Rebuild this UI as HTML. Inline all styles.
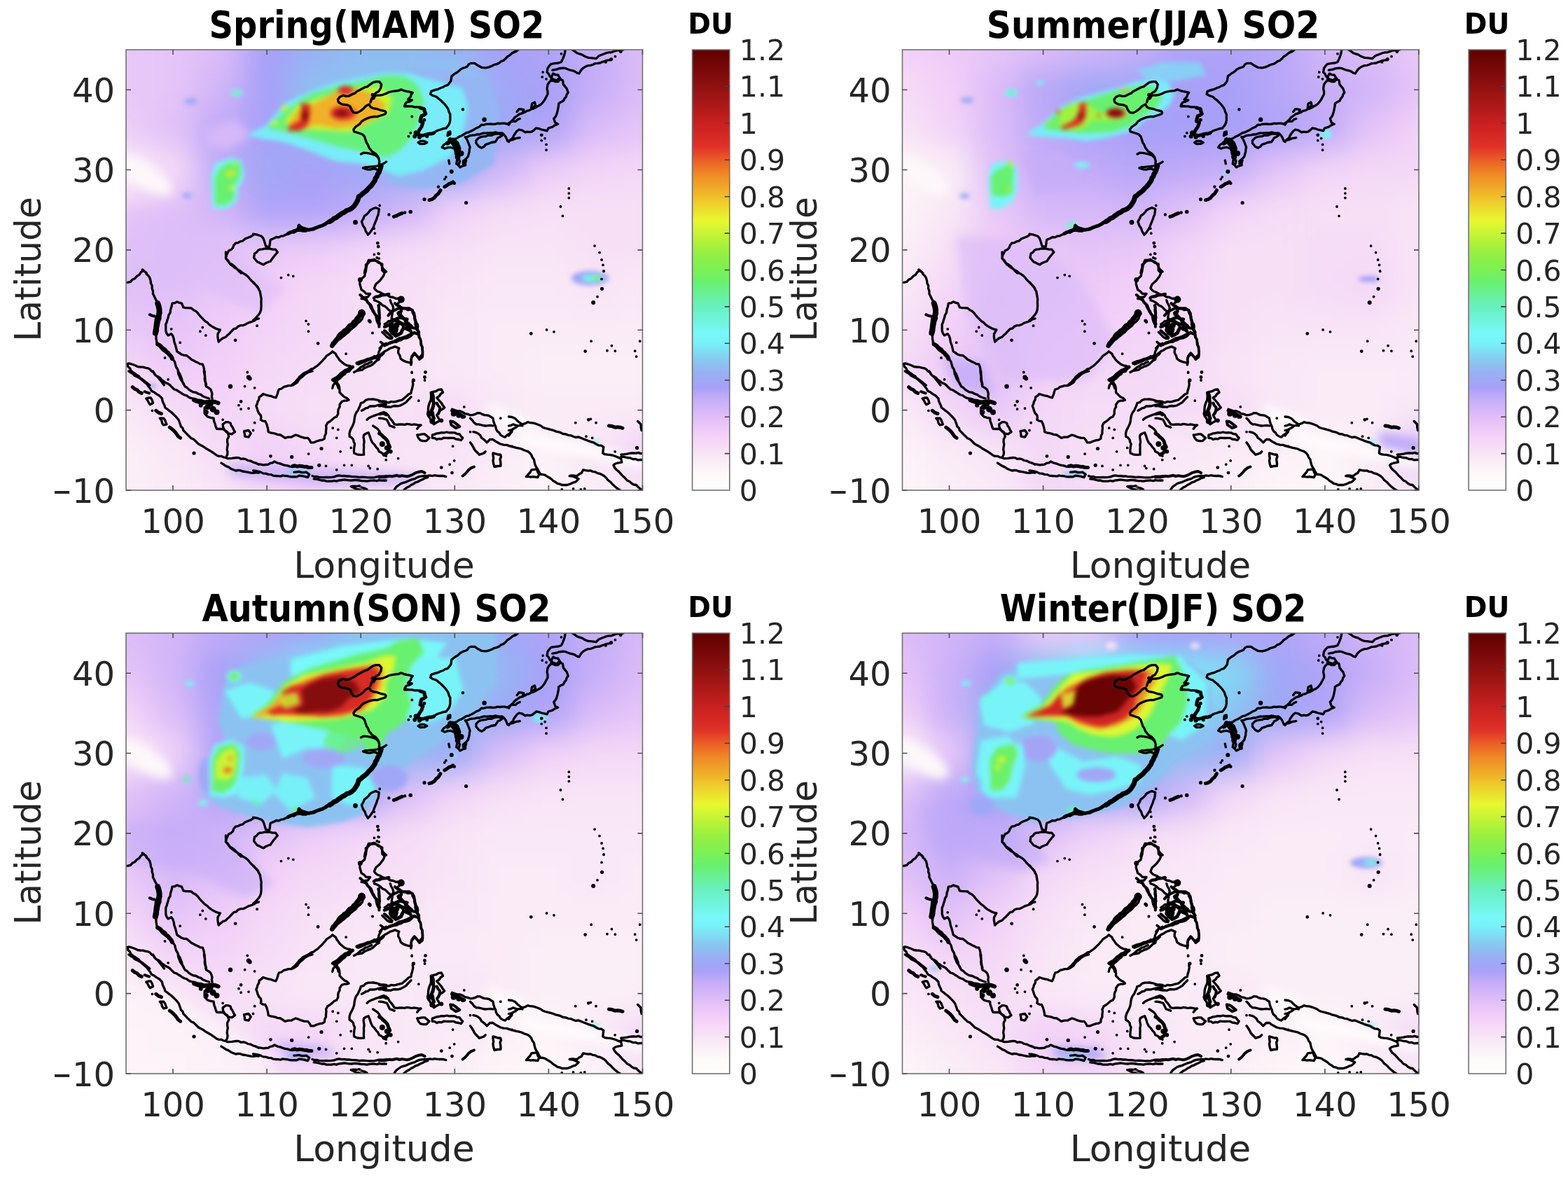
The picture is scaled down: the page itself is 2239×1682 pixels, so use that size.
<!DOCTYPE html>
<html><head><meta charset="utf-8"><title>SO2 seasonal maps</title>
<style>html,body{margin:0;padding:0;background:#fff;}body{width:2239px;height:1682px;overflow:hidden;}svg{display:block;font-family:'DejaVu Sans', 'Liberation Sans', sans-serif;}</style>
</head><body>
<svg xmlns="http://www.w3.org/2000/svg" width="2239" height="1682" viewBox="0 0 2239 1682">
<defs><linearGradient id="cb" x1="0" y1="1" x2="0" y2="0"><stop offset="0.0000" stop-color="#fffdfd"/><stop offset="0.0333" stop-color="#fefafa"/><stop offset="0.0583" stop-color="#fbf0f6"/><stop offset="0.0833" stop-color="#f8e4f6"/><stop offset="0.1250" stop-color="#f4d0f8"/><stop offset="0.1667" stop-color="#e0bef8"/><stop offset="0.2083" stop-color="#c4acf8"/><stop offset="0.2333" stop-color="#a8a0f8"/><stop offset="0.2667" stop-color="#98b0f4"/><stop offset="0.2942" stop-color="#88c8f0"/><stop offset="0.3333" stop-color="#78f0f8"/><stop offset="0.3558" stop-color="#78f8f8"/><stop offset="0.4167" stop-color="#68f0c0"/><stop offset="0.4717" stop-color="#68f070"/><stop offset="0.5083" stop-color="#80f050"/><stop offset="0.5417" stop-color="#98f040"/><stop offset="0.5833" stop-color="#c8f434"/><stop offset="0.6117" stop-color="#e8f830"/><stop offset="0.6500" stop-color="#eed02c"/><stop offset="0.6800" stop-color="#f0b028"/><stop offset="0.7167" stop-color="#ee8a26"/><stop offset="0.7408" stop-color="#ec6a25"/><stop offset="0.7808" stop-color="#e03028"/><stop offset="0.8333" stop-color="#c82020"/><stop offset="0.9167" stop-color="#901010"/><stop offset="1.0000" stop-color="#600000"/></linearGradient><clipPath id="pc"><rect x="0" y="0" width="737.5" height="629.0"/></clipPath><filter id="fb1" x="-10%" y="-10%" width="120%" height="120%" color-interpolation-filters="sRGB"><feGaussianBlur stdDeviation="22"/></filter><filter id="fb2" x="-10%" y="-10%" width="120%" height="120%" color-interpolation-filters="sRGB"><feGaussianBlur stdDeviation="7"/></filter><filter id="fb3" x="-10%" y="-10%" width="120%" height="120%" color-interpolation-filters="sRGB"><feGaussianBlur stdDeviation="3.2"/></filter><g id="coast"><path d="M349.1 75.0 350.1 71.1 353.0 67.2 356.9 65.2 361.8 65.2 366.7 64.3 371.5 62.5M349.1 75.0 351.1 69.1 352.8 66.1 355.0 63.3 357.6 60.9 360.8 59.4 363.8 54.5 364.7 49.6 361.8 45.7 356.9 45.7 353.0 46.7 350.0 48.5 347.2 50.6 344.6 52.6 341.3 53.5 338.4 54.9 335.5 56.5 332.7 58.1 329.6 59.4 327.1 61.9 323.8 63.3 320.9 64.7 318.0 66.2 314.0 66.4 310.2 65.2 305.3 67.2 302.4 71.1 303.3 75.0 308.2 77.9 312.1 78.3 316.0 78.9 319.9 80.8 321.9 85.7 324.8 89.6 329.6 90.1 334.5 87.6 339.4 83.7 341.9 80.8 345.2 78.9 347.2 77.9 349.1 81.8 353.0 83.7 358.9 84.7 364.7 86.7 369.6 87.6 371.1 89.6 370.1 91.7 366.7 93.0 361.8 94.5 358.5 95.6 355.0 95.4 349.1 96.4 343.3 98.4 339.4 100.3 336.5 102.3 333.5 106.2 330.7 108.2 327.7 110.1 324.8 114.0 325.7 116.9 331.6 118.8 337.4 120.8 340.4 123.7 342.3 129.6 343.3 132.7 345.2 135.4 347.2 140.3 351.1 145.1 356.0 148.1 359.9 152.9 361.8 159.0 361.3 162.7M335.5 149.0 339.4 147.1 345.2 147.6 351.1 149.0 356.9 151.0 360.8 154.9M371.5 62.5 374.5 60.9 377.7 60.0 381.0 59.4 384.9 58.8 388.9 58.4 392.7 56.9 396.6 58.3 400.5 59.4 404.9 60.2 409.3 61.3 407.2 63.9 406.3 67.2 402.4 71.1 408.3 72.0 404.6 74.1 400.5 75.0 398.5 77.7 397.6 80.8 401.0 80.5 404.4 80.8 408.3 80.8 412.2 81.8 416.2 81.7 420.0 82.8 425.8 84.7 427.1 88.1 427.8 91.5 424.6 92.6 421.9 94.5 421.4 98.5 420.0 102.3 423.9 104.2 421.9 110.1 419.9 112.9 418.0 115.9 416.1 120.8 421.9 122.7 425.9 122.0 429.7 120.8 432.9 119.9 436.2 119.6 439.5 118.8 442.4 116.6 445.7 115.0 449.2 114.0 453.0 112.6 457.0 112.0 460.9 107.1 462.2 103.8 462.9 100.3 462.8 96.4 462.9 92.5 461.1 88.7 459.9 84.7 457.6 81.2 455.1 77.9 452.1 75.0 449.2 72.0 446.1 69.8 443.4 67.2 437.5 65.2 434.6 63.3 435.6 59.4 441.4 57.4 445.5 56.4 449.2 54.5 452.6 53.5 455.6 51.5 459.0 50.6 461.5 47.8 463.8 44.8 464.4 41.4 464.8 37.9 469.7 34.0 472.6 32.5 475.1 30.4 477.5 28.2 480.8 26.4 484.3 25.3 487.3 23.9 489.2 20.9 492.1 19.4 498.0 19.4 501.9 22.3 504.8 23.7 507.7 25.3 513.5 25.8 518.0 24.9 522.3 23.3 525.4 21.5 528.8 20.7 532.1 19.4 535.1 16.9 538.9 15.5 542.0 12.8 544.7 9.7 548.3 7.6 551.5 4.8 556.4 2.8 559.4 0.5 562.3 -2.0M417.1 132.5 420.0 130.5 425.8 130.5 429.7 132.5 425.8 134.4 420.0 134.6ZM468.7 127.6 472.4 126.5 475.5 124.2 479.1 122.7 482.4 120.8 485.7 118.6 489.6 117.8 493.1 115.9 496.6 114.2 499.9 112.0 504.2 110.2 507.7 107.1 511.0 107.3 514.2 106.2 517.4 106.2 520.7 106.0 523.9 106.4 527.2 106.2 530.4 105.1 533.7 105.5 536.9 105.2 540.9 105.2 544.7 106.2 547.8 103.7 551.5 102.3 556.4 102.3 559.0 99.8 562.3 98.4M484.3 124.7 487.8 124.3 491.0 122.7 494.5 122.1 498.0 121.8 501.2 120.9 504.6 121.0 507.7 119.8 510.9 118.9 514.2 119.1 517.4 118.8 520.7 118.6 524.0 118.8 527.2 117.9 530.4 118.7 533.6 119.1 536.9 118.8 539.6 121.0 541.8 123.7 543.4 127.1 544.7 130.5 548.0 129.4 551.5 128.6 556.4 126.6 562.3 125.7M468.7 127.6 463.8 129.6 460.1 131.0 457.0 133.5 453.6 135.9 451.2 139.3 455.1 141.2 458.8 139.8 462.9 139.3 468.7 141.2 470.2 145.0 470.7 149.0 472.9 151.7 474.6 154.9 476.5 159.0 475.5 162.7M484.3 124.7 486.6 127.9 488.2 131.5 489.7 135.4 491.1 139.3 490.3 142.5 490.2 145.9 489.2 149.0 488.4 152.3 486.3 154.9 481.4 159.0 481.4 162.7M499.9 133.5 503.8 138.3 507.7 140.3 511.1 138.4 513.5 135.4 517.5 134.2 521.3 132.5 527.2 131.5 529.2 128.6 531.1 125.7 534.1 124.4 536.9 122.7 533.0 119.8 529.1 120.0 525.2 120.8 521.5 122.4 517.3 122.1 513.5 123.7 510.2 123.9 506.9 124.5 503.8 125.7 499.9 129.6 499.9 133.5ZM459.0 122.7 459.9 117.9 462.9 116.9 462.9 120.8 459.0 122.7ZM551.5 4.8 555.1 2.7 558.2 -0.1 560.1 -1.5M627.4 -0.6 626.6 4.1 625.4 8.7 623.6 13.1 621.5 17.5 617.3 19.0 612.8 19.4 606.9 20.4 604.3 23.2 602.1 26.2 601.1 32.1 603.6 34.6 605.0 37.9 608.9 41.8 614.7 43.8M608.9 29.2 614.7 28.2 617.8 26.9 621.1 26.5 624.5 26.2 627.9 26.7 631.0 28.0 634.2 29.2 637.7 29.8 641.0 31.1 644.0 33.1 646.9 34.0 649.8 29.2 652.4 26.3 655.7 24.3 659.4 22.7 663.5 22.3 666.6 21.2 669.8 19.7 673.2 19.4 676.6 19.0 679.8 17.6 683.0 16.5 686.1 15.3 689.4 14.8 692.7 14.5M636.2 -0.6 640.2 1.9 644.0 4.8 647.3 5.9 650.7 6.9 653.7 8.7 656.8 10.2 660.0 11.4 663.5 11.6 667.4 12.1 671.3 12.6 675.2 8.7 679.0 7.2 683.0 5.8 686.1 4.5 689.3 3.9 692.7 3.8 695.9 2.6 699.1 1.5 702.4 0.9 706.4 0.9 710.2 -0.1M606.9 43.8 607.4 40.4 608.2 37.1 609.9 34.0 613.1 35.7 616.7 36.0 618.6 38.9 620.6 41.8 616.7 45.7 613.3 45.6 610.2 44.4ZM616.7 41.8 620.3 42.1 623.5 43.8 624.5 49.6 626.9 52.6 629.3 55.5 631.3 61.3 629.2 63.9 628.4 67.2 626.0 69.8 624.5 73.0 620.9 74.7 617.7 76.9 617.5 80.9 616.7 84.7 615.9 88.7 614.7 92.5 613.2 95.7 610.8 98.4 612.8 104.2 616.7 106.2 612.6 107.7 608.9 110.1 603.0 112.0 601.1 115.9 597.2 114.9 593.3 114.0 589.5 112.6 585.5 112.0 582.7 114.6 579.6 116.9 576.4 117.6 573.1 117.1 569.9 117.9 565.8 115.2 561.1 114.0 558.3 116.0 556.2 118.8 553.9 122.0 552.3 125.7 549.1 128.2 546.5 131.5M606.9 43.8 604.2 46.5 602.1 49.6 601.1 55.5 602.0 59.3 602.1 63.3 600.6 66.2 599.1 69.1 597.4 72.2 595.2 75.0 593.1 77.5 590.5 79.4 587.4 80.8 584.7 82.6 581.7 84.1 578.5 84.9 575.7 86.7 572.2 87.3 569.3 89.3 566.0 90.6 561.8 91.9 558.2 94.5 554.8 96.9 552.3 100.3 548.9 103.3 546.5 107.1M578.7 82.8 579.6 76.9 583.5 75.0 584.5 78.9 580.6 83.7 578.7 82.8ZM558.2 88.6 561.1 84.7 564.6 85.0 567.9 85.7 566.0 90.6M371.6 160.0 368.7 162.0 365.5 163.6 362.2 164.9 358.3 166.0 354.4 166.7 350.3 166.9 346.3 167.4 342.3 167.6 338.4 168.9 344.4 170.9 348.4 171.1 352.3 170.2 356.3 169.9 359.1 172.1 362.2 173.9 360.3 176.6 359.3 179.8 358.1 183.1 355.7 185.7 354.3 188.8 351.2 191.3 348.7 194.4 346.3 197.7 343.1 200.4 340.4 203.7 337.8 205.7 335.4 208.0 332.4 209.6 330.5 215.6 327.6 219.3 325.5 223.5 322.2 226.2 318.5 228.5 315.0 229.7 311.6 231.2 308.6 233.4 306.1 235.6 303.4 237.5 300.7 239.4 297.0 240.8 293.9 243.1 290.7 245.4 287.7 247.8 284.4 249.8 280.8 251.3 277.6 252.8 274.0 252.7 270.9 254.3 267.4 254.9 264.4 256.8 260.9 257.3 257.8 255.8 254.5 254.6 251.0 254.3 247.0 250.3 245.1 255.3 241.1 258.3 237.7 259.7 234.6 261.8 231.2 263.2 227.8 264.2 224.7 265.8 221.2 266.2 218.1 267.9 214.4 267.5 211.3 269.2 206.3 271.2 205.6 274.6 205.3 278.1 204.3 282.1 199.4 280.1 198.4 276.6 197.4 273.2 196.0 269.4 193.4 266.2 187.5 264.2 181.5 263.2M183.5 291.0 186.4 289.4 188.4 286.6 191.4 285.1 194.7 284.8 198.0 284.0 201.4 284.1 205.4 284.1 209.3 285.2 213.3 285.1 216.3 289.1 213.8 292.0 211.3 295.0 208.7 298.4 206.3 302.0 202.8 303.3 199.4 304.7 196.4 306.9 193.4 305.7 190.5 304.1 187.5 303.0 185.0 300.0 182.5 297.0 183.5 291.0ZM356.3 225.5 361.2 227.5 360.7 231.5 360.2 235.4 358.7 238.6 357.7 242.1 356.3 245.4 354.7 249.3 353.3 253.3 350.8 257.3 348.3 261.2 345.4 264.2 342.4 259.3 341.0 255.0 338.4 251.3 336.4 245.4 338.7 241.5 340.4 237.4 343.4 235.2 346.2 232.6 348.3 229.5 352.1 227.2 356.3 225.5ZM340.4 319.0 341.1 315.0 342.4 311.1 342.4 306.9 345.7 304.8 348.3 302.0 352.2 300.9 356.3 301.0 360.0 302.5 363.2 304.9 365.3 308.9 367.2 312.9 371.6 316.9M472.7 157.0 471.7 162.9 474.7 165.0 476.7 167.9 480.5 166.0 484.6 164.9 484.5 161.4 485.6 158.0M460.8 158.0 461.8 162.9M-0.5 332.4 3.0 332.1 6.4 331.3 9.1 328.2 12.8 326.4 15.5 323.3 19.0 321.2 21.3 317.6 24.7 315.3 28.1 317.6 29.4 320.6 32.0 322.8 33.8 325.6 35.0 329.4 35.4 333.4 37.2 337.0 37.1 340.9 38.5 344.6 38.4 348.4 40.0 351.5 41.4 354.6 42.9 357.6 45.4 360.9 47.5 364.5 48.7 368.2 49.3 372.0 49.8 375.9 48.7 379.6 49.0 383.6 47.5 387.3 46.7 390.7 46.1 394.2 45.2 397.6 45.2 401.6 44.0 405.3 42.9 409.0 43.1 412.9 43.7 416.7 44.1 420.5 47.4 422.9 49.8 426.2 52.4 429.1 55.6 431.1 58.9 433.0 60.7 435.8 63.9 437.2 65.8 439.9 67.6 442.8 69.5 445.7 70.4 449.1 71.5 453.0 73.7 456.5 75.0 460.5 77.0 463.3 78.1 466.5 79.5 469.6 80.1 473.0 81.4 476.0 83.0 479.0M189.5 383.9 185.7 385.0 182.4 387.3 178.5 388.7 174.6 389.9 171.0 391.9 167.4 393.6 163.2 393.7 159.6 395.3 157.3 397.8 153.9 398.7 151.6 401.0 149.3 403.4 147.1 405.8 144.6 407.8 142.4 410.2 138.1 411.9 134.4 414.8 132.1 417.0 131.4 413.3 130.8 409.5 131.0 405.6 132.7 402.8 134.4 399.9 131.2 399.1 128.1 398.2 125.3 396.5 121.9 394.6 118.8 392.4 116.1 389.6 112.4 387.1 109.3 383.9 106.8 381.4 104.5 378.7 102.4 375.9 99.6 373.3 96.1 371.6 93.2 369.0 89.4 368.6 85.6 368.7 81.8 367.9 79.5 362.2 76.0 361.2 72.7 359.9 69.5 361.7 65.8 362.2 65.0 366.8 63.5 371.3 63.1 375.3 60.9 378.8 60.1 382.7 58.9 385.8 58.2 389.0 56.7 391.9 56.7 396.5 56.7 401.0 57.8 404.8 60.1 407.9 64.7 405.6 66.9 408.8 68.1 412.5 68.8 417.2 70.4 421.6 71.6 426.2 72.7 430.8 76.1 433.0 79.5 435.3 82.9 436.4 86.4 436.5 89.9 439.2 93.2 442.2 96.3 443.7 99.2 445.5 102.4 446.8 105.6 448.6 109.3 449.1 110.6 452.4 111.5 455.9 111.4 459.8 112.0 463.6 112.7 467.3 112.9 471.3 113.6 475.1 113.8 479.0M142.4 289.0 142.6 293.6 142.4 298.1 145.8 301.1 148.1 305.0 151.5 306.8 154.6 309.1 157.3 311.9 160.1 314.4 163.6 316.1 166.4 318.7 169.8 320.6 172.9 322.8 175.6 325.6 177.5 328.2 179.7 330.5 182.4 332.4 185.1 336.0 188.1 339.3 189.5 341.6M1.8 448.5 4.1 447.9 7.3 448.7 10.5 449.8 13.6 451.0 16.6 452.5 20.4 453.0 24.2 453.1 27.8 454.1 31.5 454.8 34.4 456.4 36.4 459.1 39.5 460.5 41.8 464.4 45.2 467.3 48.0 470.8 50.9 474.2 54.4 479.0M1.8 448.5 2.9 452.5 5.5 454.9 7.0 458.3 9.8 460.5 12.5 462.3 15.1 464.3 18.0 465.9 20.1 468.5 23.2 470.6 26.2 473.0 29.2 475.3 33.8 479.0M181.5 332.4 183.8 334.7 186.4 336.7 188.4 339.3 189.5 342.4 191.3 345.1 191.8 348.4 192.5 352.2 193.2 356.0 192.9 359.9 193.1 364.5 192.9 369.0 192.4 372.3 191.3 375.4 189.5 378.2 187.0 381.0 184.5 383.8 181.5 386.2M236.4 479.0 238.8 476.8 241.4 474.8 243.4 472.2 245.7 469.9 247.5 467.1 250.1 465.1 252.6 462.7 255.5 461.2 258.6 459.7 261.5 458.2 264.1 456.0 267.5 455.2 270.1 453.1 273.0 451.3 275.4 449.2 277.7 446.9 280.0 444.7 282.1 442.2 284.4 439.9 286.2 437.1 289.0 435.3 292.1 433.4 294.7 430.8 299.3 434.2 300.8 437.4 303.1 440.3 305.0 443.3 308.4 446.2 311.8 449.1 315.6 450.8 319.7 451.5 323.3 453.6 320.7 456.3 318.7 459.3 313.0 460.5 310.4 464.2 307.3 467.3 304.2 470.2 300.4 471.9 298.4 475.7 295.8 479.0 294.7 483.4M362.1 426.2 364.3 423.8 366.7 421.6 371.5 419.3M357.6 437.6 361.0 436.4 364.4 435.3 366.9 433.2 369.0 430.8 371.5 429.6M346.4 300.4 350.4 300.3 354.4 299.3 357.1 301.7 360.1 303.9 365.8 306.1 365.6 310.7 365.8 315.3 369.2 318.7 367.5 323.0 364.7 326.7 362.4 329.8 359.6 332.3 356.7 334.7 354.4 340.4 356.4 343.0 358.9 345.0 362.5 346.3 365.8 348.2 369.2 349.6 373.5 350.6 377.2 353.0 381.4 353.5 385.2 355.3 389.2 355.0 393.2 355.3 390.9 359.9 388.5 362.0 386.4 364.5M346.4 300.4 344.9 304.2 343.8 308.0 342.9 311.9 342.5 315.7 341.4 319.5 340.6 323.3 337.3 326.2 333.8 329.0 333.8 334.7 335.0 338.7 336.1 342.7 339.9 345.2 342.9 348.4 348.6 348.4 345.2 353.0 340.5 353.6 336.1 355.3 339.6 356.0 342.9 357.6 344.7 360.4 347.0 362.6 349.8 364.5 351.6 368.9 352.1 373.6 354.4 375.8 356.3 378.5 358.9 380.5M357.8 353.0 362.0 352.6 365.8 350.7 370.4 349.5 374.9 348.4M354.4 357.6 357.6 358.8 360.7 360.3 363.5 362.2 366.2 365.0 369.9 366.4 372.7 369.0 374.9 371.4 377.6 373.2 379.5 375.9M361.2 364.5 361.2 368.3 360.5 372.1 361.2 375.9 362.0 379.0 361.2 382.3 361.9 385.5 361.6 388.7 362.4 391.9M377.2 357.6 378.5 361.5 380.7 365.1 381.8 369.0 380.5 372.7 380.3 376.7 379.5 380.5 379.1 385.2 377.2 389.6M386.4 364.5 389.8 365.3 392.5 367.5 395.5 369.0 400.1 369.0 404.7 369.0 407.2 371.1 409.6 373.2 411.5 375.9 411.8 379.3 411.5 382.7 413.3 385.7 414.1 389.1 416.1 391.9 416.8 395.3 416.1 398.8 418.4 403.3M369.2 391.9 372.3 389.9 374.9 387.3 379.5 387.8 384.1 387.3 387.4 388.3 389.9 390.9 393.2 391.9 395.3 394.4 397.4 396.9 400.1 398.8 403.7 400.8 407.0 403.3M365.8 403.3 368.2 405.5 370.5 407.8 372.7 410.2 375.9 412.0 379.5 412.5M388.7 378.2 392.0 380.6 395.5 382.7 398.0 384.9 400.2 387.2 402.4 389.6 404.9 391.7 407.4 393.7 409.2 396.5M365.8 421.6 369.5 420.5 373.4 420.1 377.2 419.3 381.7 417.7 386.4 417.0 389.3 415.3 392.8 414.6 395.5 412.5 400.2 411.9 404.7 410.2 407.3 408.2 409.4 405.8 411.5 403.3 414.8 405.1 418.4 405.6 418.9 410.3 420.7 414.8 421.4 418.6 421.9 422.4 423.0 426.2 423.6 430.8 423.0 435.3 420.4 438.0 418.4 441.1 416.0 438.4 414.1 435.5 411.5 433.0 408.1 437.6 407.3 442.2 407.0 446.8 403.5 446.5 400.1 445.6 395.8 443.9 392.1 441.1 391.0 436.8 388.7 433.0 388.7 429.5 389.8 426.2 384.1 423.9 380.7 425.1 377.2 426.2 373.3 428.7 369.2 430.8 367.2 433.3 364.7 435.3 362.6 438.0 361.2 441.1 358.1 438.7 354.4 437.6M365.8 421.6 364.4 425.2 362.4 428.5 361.0 431.4 360.4 434.7 358.9 437.6M3.8 459.0 6.8 461.1 9.9 462.9 12.5 465.5 16.3 467.3 20.0 469.3 23.3 472.0 26.4 474.7 29.5 477.3 32.0 480.7 34.5 483.7 36.3 487.2 40.1 489.0 43.5 491.6 47.2 493.7 51.5 498.0 52.0 501.4 53.3 504.6 54.9 507.7 55.8 511.0 58.8 513.1 61.6 515.4 64.5 517.5 67.5 520.3 70.4 523.1 73.2 526.2 75.2 528.8 76.3 531.8 77.5 534.8 78.3 538.0 80.9 540.3 81.8 543.5 84.7 546.4 87.5 549.4 90.5 552.2 93.0 554.8 96.5 556.1 99.2 558.7 103.5 563.0 107.3 564.9 110.9 567.0 114.3 569.5 118.0 571.5 121.6 573.7 125.1 576.0 129.5 579.2 132.6 580.4 136.0 580.3 139.1 581.9 142.5 582.5M38.5 459.0 40.2 462.6 42.8 465.5 45.9 466.8 48.6 468.7 50.8 471.4 53.7 473.1 56.2 475.4 59.5 476.7 62.3 478.5 65.5 481.8 68.8 485.0 72.0 485.8 74.7 487.7 77.5 489.3 80.1 491.3 83.0 492.7 86.2 493.7 88.8 495.6 91.6 497.2 94.8 498.0 99.2 498.7 103.5 500.2 108.0 500.7 112.2 502.3 115.4 501.8 118.7 502.3M112.2 511.0 112.1 515.3 112.2 519.7 116.5 524.0 120.8 525.3 125.1 526.2 125.6 530.7 127.3 534.8 128.1 538.2 129.5 541.3 133.8 541.5 138.1 541.3 141.2 543.8 144.6 545.7 145.8 548.9 146.8 552.2 144.6 556.5 144.6 560.1 145.3 563.7 144.6 567.3 144.2 570.9 145.0 574.5 144.6 578.2 142.5 582.5M74.2 459.0 74.7 462.8 76.2 466.3 77.5 469.8 79.9 473.3 82.3 476.8 84.0 480.7 87.1 482.5 89.6 485.2 92.7 487.2 96.2 488.9 100.1 489.5 103.5 491.5 106.7 492.4 109.2 494.4 112.2 495.8 115.4 497.0 118.7 498.0M112.2 459.0 112.3 462.6 112.6 466.2 112.2 469.8 112.7 473.5 114.3 476.9 114.3 480.7 117.7 482.6 120.8 485.0 122.0 488.2 123.0 491.5 122.3 494.7 123.0 498.0M138.1 534.8 142.5 531.6 145.8 531.7 149.0 532.7 150.0 536.2 152.2 539.2 153.6 542.5 155.5 545.7 151.1 548.9 145.7 547.8 142.8 545.3 140.3 542.4 138.5 538.8 138.1 534.8ZM168.5 544.6 171.7 544.0 175.0 543.5 178.2 547.8 175.0 553.2 169.6 552.2 169.3 548.3 168.5 544.6ZM136.0 590.1 139.3 592.1 142.5 594.4 146.3 595.9 149.6 598.2 153.3 599.8 156.5 601.0 159.9 600.5 163.2 600.7 166.3 602.0 170.3 602.5 174.3 603.3 178.2 604.1 182.0 604.4 185.7 603.7 189.5 604.1M144.6 583.6 147.9 583.7 151.2 583.4 154.4 582.8 157.6 582.5 161.0 582.6 164.0 584.3 167.4 583.8 170.6 584.6 174.1 586.5 178.0 587.2 181.5 589.0 185.6 590.2 189.5 592.2M28.7 498.0 31.9 497.0 35.2 496.9 37.3 500.5 38.5 504.5 34.2 506.7 32.3 503.8 30.8 500.8 28.7 498.0ZM48.2 526.2 53.7 526.2 55.6 528.8 56.7 531.9 58.0 534.8 53.7 535.9 51.5 532.9 50.7 529.1 48.2 526.2ZM266.0 459.0 261.5 460.1 257.3 462.2 253.9 464.7 250.8 467.7 248.1 469.7 246.0 472.3 244.3 475.2 241.6 476.9 238.8 478.6 235.7 479.6 231.9 479.7 228.4 480.7 224.8 481.7 221.9 484.0 218.3 485.0 217.0 488.2 216.2 491.5 214.0 496.9 210.7 496.0 207.5 494.7 203.5 493.8 199.5 492.8 195.6 491.5 193.2 494.0 190.2 495.8 189.8 499.3 188.0 502.3 187.2 505.7 185.8 508.8 187.1 512.0 188.0 515.3 189.6 519.0 192.3 521.8 192.9 525.1 192.3 528.3 195.4 530.1 198.8 530.5 200.9 534.7 202.1 539.2 202.8 542.4 203.2 545.7 207.4 547.2 211.8 547.8 216.0 549.4 220.5 550.0 223.8 552.1 227.0 554.3 231.2 553.1 235.7 553.2 238.9 551.6 242.2 550.0 246.6 551.4 250.8 553.2 255.1 554.4 259.5 554.3 262.0 557.3 263.8 560.8 268.2 560.8 272.4 559.0 276.8 557.6 280.3 557.1 283.3 555.4 283.7 551.4 285.5 547.8 285.4 544.2 286.0 540.6 285.5 537.0 287.7 532.7 291.1 530.8 294.2 528.3 297.0 525.6 300.7 524.0 302.8 519.7 302.7 516.3 303.3 513.1 305.1 510.0 305.0 506.7 308.2 502.3 311.4 501.2 314.8 501.2 318.0 500.2 315.5 497.5 312.1 496.0 309.3 493.7 305.0 489.3 305.0 485.0 303.2 481.9 302.7 478.2 300.7 475.2 301.9 471.5 302.8 467.7 305.5 465.6 308.8 464.3 311.5 462.2 314.6 460.4 318.0 459.0M371.5 502.3 367.3 501.9 363.1 501.6 359.1 500.2 355.9 499.5 352.7 499.0 349.4 499.1 346.1 499.1 342.2 500.3 339.2 503.3 335.3 504.5 334.2 508.3 332.5 511.7 331.0 515.3 328.9 517.9 327.5 520.8 326.6 524.0 326.1 527.6 325.6 531.3 324.5 534.8 323.1 537.8 321.6 540.6 320.1 543.5 319.0 547.7 319.1 552.2 322.1 553.9 324.5 556.5 325.1 559.9 326.6 563.0 326.0 566.2 325.6 569.4 325.4 572.7 325.6 576.0 331.0 578.2 335.3 578.3 339.6 578.2 339.4 574.5 339.4 570.9 339.6 567.3 339.4 563.7 340.1 560.1 339.6 556.5 339.0 553.2 339.6 550.0 342.7 548.0 346.1 546.7 348.3 552.2 349.6 556.6 351.6 560.8 354.6 563.8 357.0 567.3 359.7 570.2 361.3 573.8 364.9 575.4 367.8 578.2 371.5 580.3M336.4 515.3 339.4 513.8 342.2 511.8 345.7 511.1 348.3 508.8 352.0 509.0 355.6 508.8 359.1 507.7 363.2 507.0 367.3 506.4 371.5 506.7M344.0 528.3 346.9 525.7 350.5 524.0 354.8 522.4 359.1 520.7 363.5 520.5 367.8 519.7 371.5 521.8M352.6 537.0 355.9 539.1 359.1 541.3 361.7 544.7 363.6 548.5 365.6 552.2 368.5 554.5 371.5 556.5M181.5 589.0 185.0 590.3 188.6 591.5 192.3 592.2 195.9 592.8 199.6 592.5 203.2 592.2 205.8 590.3 209.2 589.8 211.8 587.9 216.2 590.1 219.9 590.9 223.4 592.3 227.0 593.3 230.6 593.9 234.1 595.1 237.8 595.5 241.1 595.0 244.3 595.1 247.6 595.1 250.8 595.5 254.1 595.2 257.3 596.6 260.6 596.4 263.8 596.6M181.5 600.9 185.2 601.4 188.8 602.2 192.3 603.1 195.7 604.9 199.5 605.2 203.2 606.3 206.9 606.6 210.3 608.2 214.0 608.5 217.2 608.7 220.5 609.2 223.7 607.9 227.0 608.5 230.2 608.7 233.5 609.5 236.7 609.8 240.0 609.6 243.7 609.8 247.1 608.2 250.8 608.5 255.2 609.3 259.5 610.6 261.7 606.3 257.3 603.1 253.9 603.6 250.4 603.5 246.9 602.4 243.5 602.9 240.0 603.1M266.0 608.5 269.1 609.7 272.5 609.4 275.6 610.6 279.0 610.6 282.6 610.6 286.2 610.3 289.8 610.6 293.5 610.3 297.2 609.9 300.7 608.5 304.3 607.9 307.9 608.6 311.5 608.5 315.1 609.0 318.7 608.8 322.3 609.6 325.9 609.7 329.6 609.8 333.1 610.6 336.8 610.2 340.4 610.3 344.0 610.6 347.6 610.8 351.2 610.9 354.8 610.6 358.1 609.8 361.4 609.1 364.8 609.1 368.2 609.2 371.5 608.5M268.2 612.8 271.9 613.1 275.4 614.0 279.0 615.0 282.6 614.9 286.2 616.1 289.8 616.1 293.4 616.1 297.0 615.4 300.7 616.1 304.1 614.8 307.8 614.5 311.5 613.9 315.1 614.3 318.7 614.8 322.3 615.0 325.9 614.4 329.5 614.5 333.1 615.0 336.7 615.6 340.4 615.6 344.0 616.1 347.6 615.4 351.2 615.1 354.8 615.0 358.1 615.7 361.5 614.7 364.8 615.1 368.2 614.8 371.5 615.0M321.2 623.6 325.2 623.2 329.2 623.5 333.1 622.6 336.4 625.0 340.5 626.0 344.0 628.0 339.7 629.0 335.3 629.1 332.2 627.7 328.7 627.3 325.6 625.8 321.2 623.6ZM361.5 502.3 365.1 502.8 368.7 503.3 372.3 503.4 375.6 503.8 378.8 502.3 382.1 502.8 385.3 502.3 389.6 501.1 394.0 500.2 397.2 497.5 400.5 494.7 403.4 492.1 407.0 490.4 407.4 487.1 408.5 483.9 409.2 480.7 409.8 477.4 409.2 474.2M361.5 508.8 364.8 508.5 368.0 509.4 371.2 510.1 374.5 509.9 377.8 510.3 381.0 508.9 384.2 508.5 387.5 508.8 392.1 507.8 396.2 505.6 399.9 503.4 402.7 500.2 407.0 495.8M361.5 519.7 364.7 518.6 368.0 517.5 371.6 519.1 374.5 521.8 376.1 525.4 378.8 528.3 381.1 531.5 383.2 534.8 386.8 535.4 390.4 535.0 394.0 534.8 397.6 535.3 401.2 534.3 404.8 534.8 408.0 535.5 411.4 534.8 414.6 535.3 417.8 536.2 421.1 535.9 418.0 538.3 415.7 541.3M361.5 526.2 365.2 526.4 368.8 527.2 372.3 528.3 373.9 531.1 375.2 534.1 376.7 537.0 380.0 537.9 383.2 539.2M415.7 550.0 419.3 549.6 422.8 548.8 426.5 548.9 429.8 551.6 433.0 554.3 428.7 558.7 424.3 558.7 420.0 557.6 417.3 554.1 415.7 550.0ZM437.3 550.0 440.5 549.1 443.7 547.8 447.1 547.5 450.3 546.7 454.1 546.8 457.9 546.0 461.7 546.9 465.5 546.7 469.2 546.8 472.6 548.5 476.3 548.9 478.2 551.9 480.7 554.3 478.5 557.6 474.9 556.5 471.1 556.0 467.7 554.3 464.0 554.3 460.4 554.5 456.8 554.3 453.5 554.2 450.4 555.9 447.0 555.4 443.8 556.5 440.8 554.7 437.3 554.3 437.3 550.0ZM465.5 513.2 469.2 514.6 472.9 515.8 477.0 516.0 480.7 517.5 484.0 519.6 487.9 520.4 491.5 521.8 495.3 521.4 498.9 520.3 502.3 518.6 505.7 518.9 508.7 520.6 511.9 521.6 515.3 521.8 518.5 522.7 521.2 524.5 524.0 526.2 524.7 530.6 526.1 534.8 527.7 537.9 528.3 541.3 530.0 544.6 532.9 546.9 534.8 550.0 537.8 552.0 541.3 553.2 544.2 550.1 547.8 547.8 551.5 543.5M491.5 526.2 494.4 529.0 496.8 532.4 500.1 534.8 503.5 534.9 506.7 535.6 509.9 536.5 513.1 537.0 516.8 536.7 520.4 536.3 524.0 537.0M495.8 545.7 499.2 546.3 502.3 547.8 505.6 550.4 507.6 554.1 511.0 556.5 515.3 560.8 519.6 556.5 524.0 556.5 527.1 558.9 530.5 560.8 534.6 563.0 539.1 564.1 543.3 564.3 547.3 565.9 551.5 566.2M383.2 628.0 385.9 624.2 389.7 621.5 392.4 619.5 395.5 618.4 398.8 617.7 401.8 616.2 404.8 615.0 408.4 613.6 412.3 612.6 415.7 610.6 419.2 609.4 422.8 608.8 426.5 608.5 430.1 608.7 433.7 607.8 437.3 608.5 440.9 607.7 444.5 608.3 448.2 608.5 452.6 608.4 456.8 609.6M396.2 629.1 398.7 627.0 401.3 624.9 404.4 623.5 407.0 621.5 410.3 620.0 413.3 617.8 416.8 616.8 420.0 615.0 423.6 613.5 427.0 611.6 430.8 610.6M546.5 524.0 551.0 524.5 555.2 526.2 559.5 530.5 562.6 532.8 566.0 534.8 570.0 533.7 573.6 531.6 577.1 532.7 580.8 532.9 584.4 533.8 588.2 535.2 592.0 536.7 595.3 539.2 598.8 540.5 602.5 541.4 606.1 542.4 609.8 543.3 613.2 544.8 616.9 545.7 620.6 546.7 624.0 548.5 627.8 548.9 631.3 550.3 635.1 550.7 638.6 552.2 642.1 553.5 645.9 552.9 649.4 554.3 653.0 555.8 656.7 557.1 660.3 558.7 664.0 559.8 667.7 560.9 671.1 563.0 674.5 564.8 678.6 565.2 681.9 567.3 681.3 571.7 680.8 576.0 683.9 577.7 687.3 578.2 691.1 578.4 694.7 579.2 698.2 580.3 702.5 582.1 706.8 583.6 707.9 589.0 704.7 589.7 701.4 590.2 698.2 591.2 696.0 593.3 697.8 596.9 700.3 599.8 703.6 602.4 706.3 605.4 709.0 608.5 712.5 611.6 715.5 615.0 719.1 616.6 722.0 619.3 725.1 621.0 728.5 621.5 732.8 625.8 737.2 629.1M546.5 537.0 549.9 536.3 553.0 534.8 556.1 536.2 559.5 537.0 562.8 536.3 566.0 537.0M546.5 543.5 549.9 542.9 553.0 541.3 556.5 539.5 559.5 537.0M546.5 551.1 548.6 548.3 550.8 545.7M546.5 565.2 550.0 566.6 553.7 567.3 557.3 568.4 561.1 569.1 564.7 570.0 568.2 571.7 571.2 572.8 574.3 573.9 576.8 576.0 578.9 578.8 580.1 582.0 582.3 584.7 583.1 588.4 583.9 592.0 585.5 595.5 587.7 598.8 589.6 602.7 592.0 606.3 595.3 606.5 598.5 607.4 601.4 609.3 604.3 611.0 607.2 612.8 609.8 615.4 612.9 617.2 615.8 619.3 619.2 620.1 622.3 621.5 626.0 621.4 629.6 621.5 633.2 620.4 637.4 618.4 641.8 617.2 646.2 612.8 641.8 610.7 637.6 609.0 633.2 608.5 636.8 607.8 640.4 608.2 644.0 608.5 647.0 606.0 650.5 604.2 652.7 599.8 656.3 600.6 659.8 601.2 663.5 600.9 666.6 602.4 670.1 602.8 673.1 604.7 676.5 605.3 679.5 606.8 682.5 608.5 685.2 610.7 688.0 614.4 691.7 617.2 694.8 620.6 698.2 623.7 701.8 626.6 705.8 629.1M571.4 609.6 574.1 606.5 577.0 603.5 579.0 599.8 582.8 599.3 586.6 598.8 587.7 602.8 589.8 606.3 587.7 610.7 584.4 610.2 581.2 609.7 577.9 610.1 574.7 609.5 571.4 609.6ZM706.8 578.2 711.2 577.7 715.5 577.1 718.7 576.4 722.0 575.9 725.3 576.0 728.5 576.2 731.8 575.4 735.0 576.6 738.3 576.0M706.8 581.4 711.2 581.4 715.5 582.5 720.0 582.9 724.2 584.7 727.7 584.4 731.2 585.9 734.8 585.3 738.3 585.8M182.2 264.2 178.5 266.6 174.3 268.2 169.9 270.1 166.3 273.2 162.9 273.8 159.9 275.7 156.4 276.1 153.8 279.3 152.4 283.1 149.8 285.6 146.5 287.1 145.1 290.1 143.5 293.0 142.5 298.0 146.5 303.0 148.9 306.4 152.4 308.9 155.2 311.3 158.4 312.9 161.1 316.2 164.3 319.0M23.3 313.9 26.4 316.4 29.3 319.0" fill="none" stroke="#000" stroke-width="3.3" stroke-linejoin="round" stroke-linecap="round"/>
<path d="M352.1 64.3 355.0 65.2 353.0 69.1M420.0 82.8 425.8 84.7 426.3 88.3 427.8 91.5 425.0 93.3 421.9 94.5 420.7 98.3 420.0 102.3 423.9 104.2 421.9 110.1 419.9 112.9 418.0 115.9 416.1 120.8 421.9 122.7 425.9 121.9 429.7 120.8 433.0 120.1 436.3 120.0 439.5 118.8M290.7 245.4 287.1 246.6 284.1 249.0 280.8 250.8 277.5 251.9 274.2 253.1 270.9 254.3 267.8 256.0 264.3 256.4 260.9 257.3 257.5 256.7 254.1 256.0 251.0 254.3 247.5 255.2 244.6 257.4 241.1 258.3 237.8 259.8 234.3 260.9 231.2 262.7M247.0 251.3 251.0 255.3 254.0 256.9 257.0 258.3 253.0 258.2 249.0 257.6 245.1 257.3 242.0 258.7 239.1 260.3M454.8 195.7 458.0 193.9 460.8 191.7 464.0 190.6 466.8 188.8M433.0 214.6 436.7 213.6 440.0 211.6 442.6 208.3 445.9 205.6 448.9 200.7M382.4 238.4 386.0 237.2 389.3 235.4 394.3 233.4M379.5 391.9 382.2 393.8 383.7 396.8 386.4 398.8 385.5 402.3 384.1 405.6M9.2 481.7 12.3 484.2 15.9 485.8 18.6 488.8 22.2 490.4M42.8 515.3 46.3 518.1 50.4 519.7M62.3 539.2 65.2 541.3 67.9 543.7 70.4 546.3 72.5 549.2 74.5 552.2 77.5 554.3M237.8 594.4 241.1 593.7 244.3 595.0 247.6 594.3 250.8 594.4 254.3 595.4 257.9 595.3 261.3 596.6 264.9 596.6M300.7 476.3 302.9 479.3 303.9 482.8M361.5 547.8 365.1 550.1 368.0 553.2 371.0 555.7 373.4 558.7 374.7 563.1 376.7 567.3 374.7 569.9 374.4 573.4 372.3 576.0 368.0 578.2M689.5 537.0 694.0 537.6 698.2 539.2 701.9 538.8 705.5 539.2 709.0 540.3M377.6 395.6 379.1 399.9 379.8 404.3 382.7 406.2 385.2 408.6 389.1 406.7 392.8 404.3 394.2 401.0 396.0 397.8M330.0 447.6 333.0 446.5 336.1 445.5 339.2 444.7 342.2 443.6 345.1 442.2 348.4 441.6 351.6 440.3 354.8 439.5 358.1 438.9 360.7 436.7 364.2 435.8 366.8 433.5M295.3 471.4 298.3 469.8 301.3 468.1 304.0 466.0 306.5 463.1 309.7 460.9 312.6 458.4 316.4 457.0 319.9 454.9 323.5 453.0M437.3 491.5 438.4 494.7 438.5 498.0 438.4 501.3 439.5 504.5 438.8 508.2 437.8 511.8 436.2 515.3 437.6 518.9 438.1 522.6 439.5 526.2M465.5 515.3 468.6 516.3 471.4 517.9 474.2 519.7 477.2 520.9 479.9 522.6 482.8 524.0" fill="none" stroke="#000" stroke-width="5.0" stroke-linejoin="round" stroke-linecap="round"/>
<path d="M459.0 133.5 462.8 130.9 466.8 128.6 469.8 130.9 472.6 133.5 474.0 137.4 475.5 141.2 473.6 147.1M45.2 420.5 49.1 422.9 52.1 426.2 55.2 428.0 57.2 431.0 60.1 433.0 62.1 435.7 64.4 438.0 65.8 441.1M97.0 500.2 101.2 502.0 105.7 503.4 110.0 504.0 114.3 503.4 118.6 502.8 123.0 502.3 127.4 503.0 131.6 504.5M298.5 473.1 301.1 469.8 303.9 466.6 307.4 464.0 311.5 462.2" fill="none" stroke="#000" stroke-width="6.0" stroke-linejoin="round" stroke-linecap="round"/>
<path d="M364.2 165.9 362.8 170.4 361.2 174.9 359.3 177.6 358.3 180.8 356.2 183.6 355.3 187.0 353.3 189.7 351.3 192.6 348.9 195.3 346.3 197.7 343.6 200.9 340.4 203.7 337.7 205.5 335.3 207.9 332.4 209.6 330.5 215.6 328.1 219.6 325.5 223.5 322.3 226.4 318.5 228.5 315.0 229.6 312.0 232.0 308.6 233.4 306.0 235.5 303.2 237.3 300.7 239.4 297.0 240.9 294.1 243.5 290.7 245.4M462.9 128.6 466.2 131.7 468.7 135.4 471.3 138.2 473.6 141.2" fill="none" stroke="#000" stroke-width="7.0" stroke-linejoin="round" stroke-linecap="round"/>
<path d="M45.2 362.2 46.7 366.7 47.5 371.3 47.5 376.0 46.4 380.5 44.6 384.9 44.1 389.6 43.4 394.2 42.9 398.8 41.8 404.5" fill="none" stroke="#000" stroke-width="8.0" stroke-linejoin="round" stroke-linecap="round"/>
<path d="M33.8 378.2 37.1 379.6 40.7 380.5M384.1 362.2 387.2 365.0 390.9 366.7 392.4 370.1 393.2 373.6M26.6 488.2 29.8 489.3 33.1 490.4M463.3 530.5 466.8 531.0 469.8 532.7 473.0 535.4 476.3 538.1 470.9 540.2 467.8 537.9 464.4 535.9ZM361.5 610.6 365.1 610.1 368.8 610.3 372.3 609.5 375.9 608.7 379.6 609.2 383.2 608.5 386.8 607.8 390.4 609.0 394.0 608.1 397.6 608.7 401.2 609.2 404.8 608.5 407.8 607.2 410.7 605.8 413.5 604.1 417.8 602.8 422.2 602.0 426.5 604.1M496.9 595.5 492.8 597.1 489.3 599.8 486.7 603.0 483.9 606.0 480.7 608.5M334.3 350.1 337.1 352.5 339.9 354.7 343.0 356.6 344.8 360.4 347.9 363.5 349.5 367.5 351.2 370.5 353.4 373.3 354.7 376.7 357.0 379.4 357.7 383.5 358.6 387.5 360.3 391.3M353.8 354.5 356.8 352.4 360.5 352.1 363.5 350.1 367.6 350.4 371.5 350.1 375.5 349.1M360.3 365.3 361.2 368.8 361.3 372.3 361.7 375.8 361.4 379.4 362.1 382.6 360.9 385.9 360.9 389.1 361.2 392.4 361.4 395.6M374.4 379.4 376.8 376.4 379.8 374.0 382.5 372.3 385.5 371.0 388.4 369.6 392.2 368.9 396.0 369.6M379.8 384.8 384.2 385.6 388.4 387.0 391.9 389.7 396.0 391.3 398.9 392.7 401.6 394.7 404.7 395.6 408.4 396.9 412.3 397.8M388.4 376.1 391.4 377.8 393.6 380.4 396.0 382.6 397.9 385.5 399.3 388.6 401.4 391.3 403.5 394.8 404.8 398.7 406.9 402.1M369.0 401.0 372.2 403.8 375.5 406.5 379.8 410.8M396.0 369.6 399.3 369.8 402.4 371.3 405.9 370.7 409.0 371.8 409.4 375.2 411.1 378.2 412.2 381.4 412.3 384.8 413.4 388.3 413.3 392.1 414.4 395.6 415.4 399.7 417.7 403.2M443.8 504.5 445.6 508.0 448.2 511.0 447.6 515.5 446.0 519.7" fill="none" stroke="#000" stroke-width="4.0" stroke-linejoin="round" stroke-linecap="round"/>
<path d="M295.8 422.8 298.2 420.2 300.4 417.5 302.7 414.8 305.8 412.8 308.5 410.4 311.5 408.2 314.1 405.6 317.5 403.4 320.1 400.2 323.3 397.6 325.0 394.8 327.7 392.7 329.0 389.6 330.4 386.3 333.1 383.7 334.7 380.5 337.0 374.7 340.4 377.0 338.3 380.4 337.2 384.2 334.7 387.3 332.1 389.3 329.7 391.5 327.8 394.2 324.9 396.3 321.9 398.5 319.0 400.7 316.4 403.3 313.9 406.0 310.7 407.9 307.8 410.2 305.0 412.5 302.3 414.7 300.1 417.3 297.7 419.9 295.8 422.8ZM325.5 460.5 329.2 458.5 332.4 455.9 335.2 453.3 338.7 451.6 341.6 449.1 344.9 448.6 347.6 446.8 350.7 445.6M331.5 449.1 335.3 447.6 339.1 445.9 342.9 444.5 346.6 442.5 350.4 441.0 354.4 439.9 357.9 440.6 361.2 442.2 357.7 444.0 354.9 446.8 352.0 449.4 348.6 451.3 344.6 452.7 340.7 454.5 337.2 457.1 331.5 458.2M435.2 489.3 439.0 488.3 442.8 487.5 446.3 485.4 450.3 485.0 452.5 489.3 449.3 491.5 447.1 494.8 443.8 496.9 445.9 499.5 448.1 502.0 450.3 504.5 452.3 507.8 454.7 511.0 451.6 513.4 448.2 515.3 446.1 518.6 443.8 521.8 445.9 525.7 448.2 529.4 445.3 531.3 442.3 532.8 439.5 534.8 437.3 531.6 435.2 528.3 433.6 525.5 431.6 522.9 430.8 519.7 431.4 516.1 431.5 512.4 431.9 508.8 433.2 504.4 435.2 500.2 435.6 496.6 435.6 492.9 435.2 489.3ZM491.5 560.8 493.8 564.0 495.8 567.3 497.5 570.9 500.1 573.8 504.5 578.2 507.8 577.1 511.0 576.0 513.1 573.8M524.0 576.0 527.6 576.8 531.1 578.0 534.8 578.2 535.4 581.4 534.1 584.6 534.6 587.9 535.0 591.1 534.8 594.4 530.4 594.5 526.1 595.5 524.7 591.2 524.0 586.8 524.7 583.2 524.1 579.6 524.0 576.0ZM730.7 530.5 735.0 534.8 735.3 539.2 736.1 543.5" fill="none" stroke="#000" stroke-width="3.4" stroke-linejoin="round" stroke-linecap="round"/>
<path d="M369.0 395.6 372.1 394.6 374.8 392.9 377.6 391.3 379.9 388.9 382.3 386.5 385.2 384.8 388.8 383.1 392.8 382.6 397.0 384.1 401.4 384.8" fill="none" stroke="#000" stroke-width="4.5" stroke-linejoin="round" stroke-linecap="round"/>
<path d="M294.2 422.7 295.6 419.5 298.1 417.1 300.1 414.2 302.4 411.7 304.0 408.6 306.3 405.9 309.2 403.9 311.6 401.3 314.7 399.5 317.0 396.7 319.4 394.0 322.8 392.3 324.9 389.2 327.8 387.0 329.4 384.0 331.8 381.7 333.5 378.8 335.4 376.1" fill="none" stroke="#000" stroke-width="6.5" stroke-linejoin="round" stroke-linecap="round"/>
<path d="M363.5 417.3 366.7 419.6 369.0 422.7 372.7 421.1 375.9 418.5 379.8 417.3 383.6 415.9 387.1 413.9 390.6 411.9 394.3 411.2 397.9 409.9 401.4 408.6 404.2 407.0 407.1 405.6 410.1 404.3 413.9 405.2 417.7 406.5 418.2 410.2 420.4 413.5 420.9 417.3 421.1 421.0 423.1 424.4 423.1 428.1 423.5 431.7 423.5 435.3 423.1 438.9 418.8 442.2 417.1 438.9 414.4 436.4 412.3 433.5 410.2 436.3 407.9 438.9 407.0 442.5 407.6 446.2 406.9 449.8" fill="none" stroke="#000" stroke-width="3.6" stroke-linejoin="round" stroke-linecap="round"/>
<path d="M414.1 118.8m-3.5 0a3.5 3.5 0 1 0 7.0 0a3.5 3.5 0 1 0 -7.0 0M412.2 123.7m-3.0 0a3.0 3.0 0 1 0 6.0 0a3.0 3.0 0 1 0 -6.0 0M419.0 124.7m-3.0 0a3.0 3.0 0 1 0 6.0 0a3.0 3.0 0 1 0 -6.0 0M429.7 123.7m-2.5 0a2.5 2.5 0 1 0 5.0 0a2.5 2.5 0 1 0 -5.0 0M425.8 100.3m-2.5 0a2.5 2.5 0 1 0 5.0 0a2.5 2.5 0 1 0 -5.0 0M511.6 99.8m-3.2 0a3.2 3.2 0 1 0 6.4 0a3.2 3.2 0 1 0 -6.4 0M480.9 85.2m-2.2 0a2.2 2.2 0 1 0 4.4 0a2.2 2.2 0 1 0 -4.4 0M408.3 95.4m-1.9 0a1.9 1.9 0 1 0 3.8 0a1.9 1.9 0 1 0 -3.8 0M403.4 123.7m-1.9 0a1.9 1.9 0 1 0 3.8 0a1.9 1.9 0 1 0 -3.8 0M406.3 118.8m-1.9 0a1.9 1.9 0 1 0 3.8 0a1.9 1.9 0 1 0 -3.8 0M593.3 121.8m-2.4 0a2.4 2.4 0 1 0 4.8 0a2.4 2.4 0 1 0 -4.8 0M598.2 126.6m-1.9 0a1.9 1.9 0 1 0 3.8 0a1.9 1.9 0 1 0 -3.8 0M593.3 129.6m-1.9 0a1.9 1.9 0 1 0 3.8 0a1.9 1.9 0 1 0 -3.8 0M600.1 135.4m-1.9 0a1.9 1.9 0 1 0 3.8 0a1.9 1.9 0 1 0 -3.8 0M600.1 143.2m-1.9 0a1.9 1.9 0 1 0 3.8 0a1.9 1.9 0 1 0 -3.8 0M595.2 32.1m-1.9 0a1.9 1.9 0 1 0 3.8 0a1.9 1.9 0 1 0 -3.8 0M594.3 38.9m-1.9 0a1.9 1.9 0 1 0 3.8 0a1.9 1.9 0 1 0 -3.8 0M600.1 41.8m-1.9 0a1.9 1.9 0 1 0 3.8 0a1.9 1.9 0 1 0 -3.8 0M621.5 5.8m-1.9 0a1.9 1.9 0 1 0 3.8 0a1.9 1.9 0 1 0 -3.8 0M692.7 13.6m-2.6 0a2.6 2.6 0 1 0 5.2 0a2.6 2.6 0 1 0 -5.2 0M684.9 17.5m-2.2 0a2.2 2.2 0 1 0 4.4 0a2.2 2.2 0 1 0 -4.4 0M698.5 9.7m-1.9 0a1.9 1.9 0 1 0 3.8 0a1.9 1.9 0 1 0 -3.8 0M706.3 2.8m-2.4 0a2.4 2.4 0 1 0 4.8 0a2.4 2.4 0 1 0 -4.8 0M327.5 246.4m-3.4 0a3.4 3.4 0 1 0 6.8 0a3.4 3.4 0 1 0 -6.8 0M354.3 255.3m-1.9 0a1.9 1.9 0 1 0 3.8 0a1.9 1.9 0 1 0 -3.8 0M355.3 262.2m-1.9 0a1.9 1.9 0 1 0 3.8 0a1.9 1.9 0 1 0 -3.8 0M359.3 276.1m-2.4 0a2.4 2.4 0 1 0 4.8 0a2.4 2.4 0 1 0 -4.8 0M360.2 281.1m-2.4 0a2.4 2.4 0 1 0 4.8 0a2.4 2.4 0 1 0 -4.8 0M360.2 291.0m-1.9 0a1.9 1.9 0 1 0 3.8 0a1.9 1.9 0 1 0 -3.8 0M358.3 297.0m-1.9 0a1.9 1.9 0 1 0 3.8 0a1.9 1.9 0 1 0 -3.8 0M362.2 222.5m-1.9 0a1.9 1.9 0 1 0 3.8 0a1.9 1.9 0 1 0 -3.8 0M464.8 173.9m-3.0 0a3.0 3.0 0 1 0 6.0 0a3.0 3.0 0 1 0 -6.0 0M456.8 181.8m-1.9 0a1.9 1.9 0 1 0 3.8 0a1.9 1.9 0 1 0 -3.8 0M454.8 184.8m-1.9 0a1.9 1.9 0 1 0 3.8 0a1.9 1.9 0 1 0 -3.8 0M468.7 190.7m-2.4 0a2.4 2.4 0 1 0 4.8 0a2.4 2.4 0 1 0 -4.8 0M445.9 195.7m-2.2 0a2.2 2.2 0 1 0 4.4 0a2.2 2.2 0 1 0 -4.4 0M448.9 201.7m-1.9 0a1.9 1.9 0 1 0 3.8 0a1.9 1.9 0 1 0 -3.8 0M426.0 213.6m-2.6 0a2.6 2.6 0 1 0 5.2 0a2.6 2.6 0 1 0 -5.2 0M485.6 218.5m-2.6 0a2.6 2.6 0 1 0 5.2 0a2.6 2.6 0 1 0 -5.2 0M406.2 231.5m-2.8 0a2.8 2.8 0 1 0 5.6 0a2.8 2.8 0 1 0 -5.6 0M398.2 232.5m-2.2 0a2.2 2.2 0 1 0 4.4 0a2.2 2.2 0 1 0 -4.4 0M375.4 235.4m-2.2 0a2.2 2.2 0 1 0 4.4 0a2.2 2.2 0 1 0 -4.4 0M632.4 198.2m-1.9 0a1.9 1.9 0 1 0 3.8 0a1.9 1.9 0 1 0 -3.8 0M632.4 205.1m-1.9 0a1.9 1.9 0 1 0 3.8 0a1.9 1.9 0 1 0 -3.8 0M632.4 211.6m-1.9 0a1.9 1.9 0 1 0 3.8 0a1.9 1.9 0 1 0 -3.8 0M620.5 224.0m-1.9 0a1.9 1.9 0 1 0 3.8 0a1.9 1.9 0 1 0 -3.8 0M623.5 237.4m-1.9 0a1.9 1.9 0 1 0 3.8 0a1.9 1.9 0 1 0 -3.8 0M669.1 280.1m-1.9 0a1.9 1.9 0 1 0 3.8 0a1.9 1.9 0 1 0 -3.8 0M676.1 289.6m-1.9 0a1.9 1.9 0 1 0 3.8 0a1.9 1.9 0 1 0 -3.8 0M679.1 300.0m-1.9 0a1.9 1.9 0 1 0 3.8 0a1.9 1.9 0 1 0 -3.8 0M681.1 307.4m-1.9 0a1.9 1.9 0 1 0 3.8 0a1.9 1.9 0 1 0 -3.8 0M682.1 316.4m-1.9 0a1.9 1.9 0 1 0 3.8 0a1.9 1.9 0 1 0 -3.8 0M64.7 398.8m-1.9 0a1.9 1.9 0 1 0 3.8 0a1.9 1.9 0 1 0 -3.8 0M77.2 418.2m-1.9 0a1.9 1.9 0 1 0 3.8 0a1.9 1.9 0 1 0 -3.8 0M105.8 402.2m-1.9 0a1.9 1.9 0 1 0 3.8 0a1.9 1.9 0 1 0 -3.8 0M109.3 396.5m-1.9 0a1.9 1.9 0 1 0 3.8 0a1.9 1.9 0 1 0 -3.8 0M113.8 407.9m-1.9 0a1.9 1.9 0 1 0 3.8 0a1.9 1.9 0 1 0 -3.8 0M156.1 414.8m-2.4 0a2.4 2.4 0 1 0 4.8 0a2.4 2.4 0 1 0 -4.8 0M187.0 394.2m-1.9 0a1.9 1.9 0 1 0 3.8 0a1.9 1.9 0 1 0 -3.8 0M173.3 460.5m-1.9 0a1.9 1.9 0 1 0 3.8 0a1.9 1.9 0 1 0 -3.8 0M176.7 469.6m-3.0 0a3.0 3.0 0 1 0 6.0 0a3.0 3.0 0 1 0 -6.0 0M55.5 439.9m-1.9 0a1.9 1.9 0 1 0 3.8 0a1.9 1.9 0 1 0 -3.8 0M60.1 470.8m-1.9 0a1.9 1.9 0 1 0 3.8 0a1.9 1.9 0 1 0 -3.8 0M221.5 325.6m-1.9 0a1.9 1.9 0 1 0 3.8 0a1.9 1.9 0 1 0 -3.8 0M231.8 321.6m-1.9 0a1.9 1.9 0 1 0 3.8 0a1.9 1.9 0 1 0 -3.8 0M238.7 323.3m-1.9 0a1.9 1.9 0 1 0 3.8 0a1.9 1.9 0 1 0 -3.8 0M257.0 387.3m-1.9 0a1.9 1.9 0 1 0 3.8 0a1.9 1.9 0 1 0 -3.8 0M260.4 391.9m-1.9 0a1.9 1.9 0 1 0 3.8 0a1.9 1.9 0 1 0 -3.8 0M260.4 402.2m-1.9 0a1.9 1.9 0 1 0 3.8 0a1.9 1.9 0 1 0 -3.8 0M274.1 419.3m-2.4 0a2.4 2.4 0 1 0 4.8 0a2.4 2.4 0 1 0 -4.8 0M314.1 434.2m-1.9 0a1.9 1.9 0 1 0 3.8 0a1.9 1.9 0 1 0 -3.8 0M351.8 404.5m-1.9 0a1.9 1.9 0 1 0 3.8 0a1.9 1.9 0 1 0 -3.8 0M348.4 388.5m-2.4 0a2.4 2.4 0 1 0 4.8 0a2.4 2.4 0 1 0 -4.8 0M187.2 394.2m-1.9 0a1.9 1.9 0 1 0 3.8 0a1.9 1.9 0 1 0 -3.8 0M408.1 460.5m-1.9 0a1.9 1.9 0 1 0 3.8 0a1.9 1.9 0 1 0 -3.8 0M410.4 471.9m-2.6 0a2.6 2.6 0 1 0 5.2 0a2.6 2.6 0 1 0 -5.2 0M427.5 460.5m-2.4 0a2.4 2.4 0 1 0 4.8 0a2.4 2.4 0 1 0 -4.8 0M426.4 467.3m-2.4 0a2.4 2.4 0 1 0 4.8 0a2.4 2.4 0 1 0 -4.8 0M352.1 404.5m-1.9 0a1.9 1.9 0 1 0 3.8 0a1.9 1.9 0 1 0 -3.8 0M348.6 387.3m-1.9 0a1.9 1.9 0 1 0 3.8 0a1.9 1.9 0 1 0 -3.8 0M336.1 375.9m-3.0 0a3.0 3.0 0 1 0 6.0 0a3.0 3.0 0 1 0 -6.0 0M354.4 292.4m-1.9 0a1.9 1.9 0 1 0 3.8 0a1.9 1.9 0 1 0 -3.8 0M361.2 291.3m-1.9 0a1.9 1.9 0 1 0 3.8 0a1.9 1.9 0 1 0 -3.8 0M361.2 298.1m-1.9 0a1.9 1.9 0 1 0 3.8 0a1.9 1.9 0 1 0 -3.8 0M116.5 509.9m-4.0 0a4.0 4.0 0 1 0 8.0 0a4.0 4.0 0 1 0 -8.0 0M124.1 513.2m-4.5 0a4.5 4.5 0 1 0 9.0 0a4.5 4.5 0 1 0 -9.0 0M129.5 517.5m-4.0 0a4.0 4.0 0 1 0 8.0 0a4.0 4.0 0 1 0 -8.0 0M114.3 517.5m-3.5 0a3.5 3.5 0 1 0 7.0 0a3.5 3.5 0 1 0 -7.0 0M120.8 505.6m-4.0 0a4.0 4.0 0 1 0 8.0 0a4.0 4.0 0 1 0 -8.0 0M106.7 507.7m-3.0 0a3.0 3.0 0 1 0 6.0 0a3.0 3.0 0 1 0 -6.0 0M37.4 515.3m-1.9 0a1.9 1.9 0 1 0 3.8 0a1.9 1.9 0 1 0 -3.8 0M97.0 576.0m-2.6 0a2.6 2.6 0 1 0 5.2 0a2.6 2.6 0 1 0 -5.2 0M175.0 467.7m-3.2 0a3.2 3.2 0 1 0 6.4 0a3.2 3.2 0 1 0 -6.4 0M149.0 480.7m-3.2 0a3.2 3.2 0 1 0 6.4 0a3.2 3.2 0 1 0 -6.4 0M169.6 480.7m-1.9 0a1.9 1.9 0 1 0 3.8 0a1.9 1.9 0 1 0 -3.8 0M164.1 502.3m-2.4 0a2.4 2.4 0 1 0 4.8 0a2.4 2.4 0 1 0 -4.8 0M160.9 507.7m-1.9 0a1.9 1.9 0 1 0 3.8 0a1.9 1.9 0 1 0 -3.8 0M164.1 513.2m-1.9 0a1.9 1.9 0 1 0 3.8 0a1.9 1.9 0 1 0 -3.8 0M175.0 512.1m-1.9 0a1.9 1.9 0 1 0 3.8 0a1.9 1.9 0 1 0 -3.8 0M183.6 482.8m-1.9 0a1.9 1.9 0 1 0 3.8 0a1.9 1.9 0 1 0 -3.8 0M183.6 532.7m-1.9 0a1.9 1.9 0 1 0 3.8 0a1.9 1.9 0 1 0 -3.8 0M138.1 528.3m-1.9 0a1.9 1.9 0 1 0 3.8 0a1.9 1.9 0 1 0 -3.8 0M206.4 580.3m-2.4 0a2.4 2.4 0 1 0 4.8 0a2.4 2.4 0 1 0 -4.8 0M236.7 581.4m-2.6 0a2.6 2.6 0 1 0 5.2 0a2.6 2.6 0 1 0 -5.2 0M260.6 577.1m-1.9 0a1.9 1.9 0 1 0 3.8 0a1.9 1.9 0 1 0 -3.8 0M279.0 569.5m-2.6 0a2.6 2.6 0 1 0 5.2 0a2.6 2.6 0 1 0 -5.2 0M306.1 573.8m-1.9 0a1.9 1.9 0 1 0 3.8 0a1.9 1.9 0 1 0 -3.8 0M321.2 568.4m-1.9 0a1.9 1.9 0 1 0 3.8 0a1.9 1.9 0 1 0 -3.8 0M300.7 554.3m-1.9 0a1.9 1.9 0 1 0 3.8 0a1.9 1.9 0 1 0 -3.8 0M295.2 540.2m-1.9 0a1.9 1.9 0 1 0 3.8 0a1.9 1.9 0 1 0 -3.8 0M302.8 542.4m-1.9 0a1.9 1.9 0 1 0 3.8 0a1.9 1.9 0 1 0 -3.8 0M275.7 593.3m-2.6 0a2.6 2.6 0 1 0 5.2 0a2.6 2.6 0 1 0 -5.2 0M285.5 594.4m-1.9 0a1.9 1.9 0 1 0 3.8 0a1.9 1.9 0 1 0 -3.8 0M300.7 599.8m-1.9 0a1.9 1.9 0 1 0 3.8 0a1.9 1.9 0 1 0 -3.8 0M311.5 593.3m-1.9 0a1.9 1.9 0 1 0 3.8 0a1.9 1.9 0 1 0 -3.8 0M322.3 593.3m-1.9 0a1.9 1.9 0 1 0 3.8 0a1.9 1.9 0 1 0 -3.8 0M346.1 594.4m-1.9 0a1.9 1.9 0 1 0 3.8 0a1.9 1.9 0 1 0 -3.8 0M348.3 597.6m-1.9 0a1.9 1.9 0 1 0 3.8 0a1.9 1.9 0 1 0 -3.8 0M359.1 598.7m-1.9 0a1.9 1.9 0 1 0 3.8 0a1.9 1.9 0 1 0 -3.8 0M183.7 532.7m-1.9 0a1.9 1.9 0 1 0 3.8 0a1.9 1.9 0 1 0 -3.8 0M181.5 543.5m-1.9 0a1.9 1.9 0 1 0 3.8 0a1.9 1.9 0 1 0 -3.8 0M365.8 563.0m-4.0 0a4.0 4.0 0 1 0 8.0 0a4.0 4.0 0 1 0 -8.0 0M372.3 568.4m-3.5 0a3.5 3.5 0 1 0 7.0 0a3.5 3.5 0 1 0 -7.0 0M377.7 573.8m-3.0 0a3.0 3.0 0 1 0 6.0 0a3.0 3.0 0 1 0 -6.0 0M408.1 461.2m-1.9 0a1.9 1.9 0 1 0 3.8 0a1.9 1.9 0 1 0 -3.8 0M426.5 467.7m-2.4 0a2.4 2.4 0 1 0 4.8 0a2.4 2.4 0 1 0 -4.8 0M426.5 472.0m-1.9 0a1.9 1.9 0 1 0 3.8 0a1.9 1.9 0 1 0 -3.8 0M417.8 501.2m-1.9 0a1.9 1.9 0 1 0 3.8 0a1.9 1.9 0 1 0 -3.8 0M466.6 566.2m-1.9 0a1.9 1.9 0 1 0 3.8 0a1.9 1.9 0 1 0 -3.8 0M462.2 592.2m-1.9 0a1.9 1.9 0 1 0 3.8 0a1.9 1.9 0 1 0 -3.8 0M468.7 586.8m-1.9 0a1.9 1.9 0 1 0 3.8 0a1.9 1.9 0 1 0 -3.8 0M450.3 596.6m-2.4 0a2.4 2.4 0 1 0 4.8 0a2.4 2.4 0 1 0 -4.8 0M465.5 604.1m-2.4 0a2.4 2.4 0 1 0 4.8 0a2.4 2.4 0 1 0 -4.8 0M388.6 583.6m-1.9 0a1.9 1.9 0 1 0 3.8 0a1.9 1.9 0 1 0 -3.8 0M371.2 585.7m-1.9 0a1.9 1.9 0 1 0 3.8 0a1.9 1.9 0 1 0 -3.8 0M491.5 545.7m-1.9 0a1.9 1.9 0 1 0 3.8 0a1.9 1.9 0 1 0 -3.8 0M482.8 509.9m-1.9 0a1.9 1.9 0 1 0 3.8 0a1.9 1.9 0 1 0 -3.8 0M534.8 526.2m-1.9 0a1.9 1.9 0 1 0 3.8 0a1.9 1.9 0 1 0 -3.8 0M641.8 532.7m-1.9 0a1.9 1.9 0 1 0 3.8 0a1.9 1.9 0 1 0 -3.8 0M660.3 528.3m-2.4 0a2.4 2.4 0 1 0 4.8 0a2.4 2.4 0 1 0 -4.8 0M663.5 527.3m-1.9 0a1.9 1.9 0 1 0 3.8 0a1.9 1.9 0 1 0 -3.8 0M671.1 532.7m-1.9 0a1.9 1.9 0 1 0 3.8 0a1.9 1.9 0 1 0 -3.8 0M729.6 568.4m-2.6 0a2.6 2.6 0 1 0 5.2 0a2.6 2.6 0 1 0 -5.2 0M698.2 573.8m-1.9 0a1.9 1.9 0 1 0 3.8 0a1.9 1.9 0 1 0 -3.8 0M657.0 552.2m-1.9 0a1.9 1.9 0 1 0 3.8 0a1.9 1.9 0 1 0 -3.8 0M665.7 554.3m-1.9 0a1.9 1.9 0 1 0 3.8 0a1.9 1.9 0 1 0 -3.8 0M622.3 628.0m-1.9 0a1.9 1.9 0 1 0 3.8 0a1.9 1.9 0 1 0 -3.8 0M638.6 626.9m-1.9 0a1.9 1.9 0 1 0 3.8 0a1.9 1.9 0 1 0 -3.8 0M649.4 628.0m-1.9 0a1.9 1.9 0 1 0 3.8 0a1.9 1.9 0 1 0 -3.8 0M654.8 626.9m-1.9 0a1.9 1.9 0 1 0 3.8 0a1.9 1.9 0 1 0 -3.8 0M379.8 400.0m-5.0 0a5.0 5.0 0 1 0 10.0 0a5.0 5.0 0 1 0 -10.0 0M386.3 393.5m-4.0 0a4.0 4.0 0 1 0 8.0 0a4.0 4.0 0 1 0 -8.0 0M392.8 356.6m-5.0 0a5.0 5.0 0 1 0 10.0 0a5.0 5.0 0 1 0 -10.0 0M390.6 376.1m-3.5 0a3.5 3.5 0 1 0 7.0 0a3.5 3.5 0 1 0 -7.0 0M401.4 397.8m-3.5 0a3.5 3.5 0 1 0 7.0 0a3.5 3.5 0 1 0 -7.0 0M334.3 328.5m-3.5 0a3.5 3.5 0 1 0 7.0 0a3.5 3.5 0 1 0 -7.0 0M347.3 387.0m-2.5 0a2.5 2.5 0 1 0 5.0 0a2.5 2.5 0 1 0 -5.0 0M336.5 376.1m-5.5 0a5.5 5.5 0 1 0 11.0 0a5.5 5.5 0 1 0 -11.0 0M433.0 519.7m-4.0 0a4.0 4.0 0 1 0 8.0 0a4.0 4.0 0 1 0 -8.0 0M437.3 530.5m-4.0 0a4.0 4.0 0 1 0 8.0 0a4.0 4.0 0 1 0 -8.0 0M450.3 529.4m-3.0 0a3.0 3.0 0 1 0 6.0 0a3.0 3.0 0 1 0 -6.0 0M467.7 519.7m-4.0 0a4.0 4.0 0 1 0 8.0 0a4.0 4.0 0 1 0 -8.0 0M475.2 521.8m-4.0 0a4.0 4.0 0 1 0 8.0 0a4.0 4.0 0 1 0 -8.0 0M480.7 524.0m-3.0 0a3.0 3.0 0 1 0 6.0 0a3.0 3.0 0 1 0 -6.0 0M478.5 148.1m-4.0 0a4.0 4.0 0 1 0 8.0 0a4.0 4.0 0 1 0 -8.0 0M473.6 152.9m-4.0 0a4.0 4.0 0 1 0 8.0 0a4.0 4.0 0 1 0 -8.0 0M682.1 316.0m-1.9 0a1.9 1.9 0 1 0 3.8 0a1.9 1.9 0 1 0 -3.8 0M679.1 327.4m-1.9 0a1.9 1.9 0 1 0 3.8 0a1.9 1.9 0 1 0 -3.8 0M679.6 341.3m-2.6 0a2.6 2.6 0 1 0 5.2 0a2.6 2.6 0 1 0 -5.2 0M673.1 352.7m-1.9 0a1.9 1.9 0 1 0 3.8 0a1.9 1.9 0 1 0 -3.8 0M667.2 361.1m-3.0 0a3.0 3.0 0 1 0 6.0 0a3.0 3.0 0 1 0 -6.0 0M578.3 405.3m-2.4 0a2.4 2.4 0 1 0 4.8 0a2.4 2.4 0 1 0 -4.8 0M600.6 399.9m-1.9 0a1.9 1.9 0 1 0 3.8 0a1.9 1.9 0 1 0 -3.8 0M611.0 402.8m-1.9 0a1.9 1.9 0 1 0 3.8 0a1.9 1.9 0 1 0 -3.8 0M664.2 416.2m-1.9 0a1.9 1.9 0 1 0 3.8 0a1.9 1.9 0 1 0 -3.8 0M655.7 430.6m-2.4 0a2.4 2.4 0 1 0 4.8 0a2.4 2.4 0 1 0 -4.8 0M687.0 429.7m-1.9 0a1.9 1.9 0 1 0 3.8 0a1.9 1.9 0 1 0 -3.8 0M693.5 422.7m-1.9 0a1.9 1.9 0 1 0 3.8 0a1.9 1.9 0 1 0 -3.8 0M698.4 430.2m-1.9 0a1.9 1.9 0 1 0 3.8 0a1.9 1.9 0 1 0 -3.8 0M733.7 416.2m-1.9 0a1.9 1.9 0 1 0 3.8 0a1.9 1.9 0 1 0 -3.8 0M726.7 430.2m-1.9 0a1.9 1.9 0 1 0 3.8 0a1.9 1.9 0 1 0 -3.8 0M728.7 438.1m-1.9 0a1.9 1.9 0 1 0 3.8 0a1.9 1.9 0 1 0 -3.8 0" fill="#000"/></g></defs>
<rect width="2239" height="1682" fill="#ffffff"/>
<g transform="translate(180.0,71.0)">
<g clip-path="url(#pc)"><g filter="url(#fb1)"><rect x="-73.5" y="-68.6" width="107.6" height="97.8" fill="#e9c8f8"/><rect x="33.5" y="-68.6" width="67.6" height="97.8" fill="#e5c4f8"/><rect x="100.6" y="-68.6" width="67.6" height="97.8" fill="#dcbcf8"/><rect x="167.6" y="-68.6" width="67.6" height="97.8" fill="#a8a0f8"/><rect x="234.7" y="-68.6" width="67.6" height="97.8" fill="#98b0f4"/><rect x="301.7" y="-68.6" width="67.6" height="97.8" fill="#90bcf2"/><rect x="368.8" y="-68.6" width="67.6" height="97.8" fill="#90bcf2"/><rect x="435.8" y="-68.6" width="67.6" height="97.8" fill="#98b0f4"/><rect x="502.8" y="-68.6" width="67.6" height="97.8" fill="#a8a0f8"/><rect x="569.9" y="-68.6" width="67.6" height="97.8" fill="#b0a3f8"/><rect x="636.9" y="-68.6" width="67.6" height="97.8" fill="#c6aef8"/><rect x="704.0" y="-68.6" width="107.6" height="97.8" fill="#dcbcf8"/><rect x="-73.5" y="28.6" width="107.6" height="57.8" fill="#e9c8f8"/><rect x="33.5" y="28.6" width="67.6" height="57.8" fill="#e5c4f8"/><rect x="100.6" y="28.6" width="67.6" height="57.8" fill="#d1b5f8"/><rect x="167.6" y="28.6" width="67.6" height="57.8" fill="#a8a0f8"/><rect x="234.7" y="28.6" width="67.6" height="57.8" fill="#8cc2f1"/><rect x="301.7" y="28.6" width="67.6" height="57.8" fill="#8cc2f1"/><rect x="368.8" y="28.6" width="67.6" height="57.8" fill="#8cc2f1"/><rect x="435.8" y="28.6" width="67.6" height="57.8" fill="#80daf4"/><rect x="502.8" y="28.6" width="67.6" height="57.8" fill="#a0a8f6"/><rect x="569.9" y="28.6" width="67.6" height="57.8" fill="#a8a0f8"/><rect x="636.9" y="28.6" width="67.6" height="57.8" fill="#c6aef8"/><rect x="704.0" y="28.6" width="107.6" height="57.8" fill="#dcbcf8"/><rect x="-73.5" y="85.8" width="107.6" height="57.8" fill="#eeccf8"/><rect x="33.5" y="85.8" width="67.6" height="57.8" fill="#e0c0f8"/><rect x="100.6" y="85.8" width="67.6" height="57.8" fill="#c0aaf8"/><rect x="167.6" y="85.8" width="67.6" height="57.8" fill="#a8a0f8"/><rect x="234.7" y="85.8" width="67.6" height="57.8" fill="#98b0f4"/><rect x="301.7" y="85.8" width="67.6" height="57.8" fill="#8cc2f1"/><rect x="368.8" y="85.8" width="67.6" height="57.8" fill="#8cc2f1"/><rect x="435.8" y="85.8" width="67.6" height="57.8" fill="#98b0f4"/><rect x="502.8" y="85.8" width="67.6" height="57.8" fill="#a0a8f6"/><rect x="569.9" y="85.8" width="67.6" height="57.8" fill="#b0a3f8"/><rect x="636.9" y="85.8" width="67.6" height="57.8" fill="#dcbcf8"/><rect x="704.0" y="85.8" width="107.6" height="57.8" fill="#e5c4f8"/><rect x="-73.5" y="143.0" width="107.6" height="57.8" fill="#fcf2f8"/><rect x="33.5" y="143.0" width="67.6" height="57.8" fill="#f6dcf7"/><rect x="100.6" y="143.0" width="67.6" height="57.8" fill="#c0aaf8"/><rect x="167.6" y="143.0" width="67.6" height="57.8" fill="#a0a8f6"/><rect x="234.7" y="143.0" width="67.6" height="57.8" fill="#a8a0f8"/><rect x="301.7" y="143.0" width="67.6" height="57.8" fill="#a0a8f6"/><rect x="368.8" y="143.0" width="67.6" height="57.8" fill="#98b0f4"/><rect x="435.8" y="143.0" width="67.6" height="57.8" fill="#a0a8f6"/><rect x="502.8" y="143.0" width="67.6" height="57.8" fill="#d1b5f8"/><rect x="569.9" y="143.0" width="67.6" height="57.8" fill="#eeccf8"/><rect x="636.9" y="143.0" width="67.6" height="57.8" fill="#f3d4f8"/><rect x="704.0" y="143.0" width="107.6" height="57.8" fill="#f4d8f7"/><rect x="-73.5" y="200.1" width="107.6" height="57.8" fill="#eeccf8"/><rect x="33.5" y="200.1" width="67.6" height="57.8" fill="#e0c0f8"/><rect x="100.6" y="200.1" width="67.6" height="57.8" fill="#d1b5f8"/><rect x="167.6" y="200.1" width="67.6" height="57.8" fill="#b0a3f8"/><rect x="234.7" y="200.1" width="67.6" height="57.8" fill="#b0a3f8"/><rect x="301.7" y="200.1" width="67.6" height="57.8" fill="#c0aaf8"/><rect x="368.8" y="200.1" width="67.6" height="57.8" fill="#d1b5f8"/><rect x="435.8" y="200.1" width="67.6" height="57.8" fill="#f2d0f8"/><rect x="502.8" y="200.1" width="67.6" height="57.8" fill="#f6dcf7"/><rect x="569.9" y="200.1" width="67.6" height="57.8" fill="#f7e0f6"/><rect x="636.9" y="200.1" width="67.6" height="57.8" fill="#f7e0f6"/><rect x="704.0" y="200.1" width="107.6" height="57.8" fill="#f7e0f6"/><rect x="-73.5" y="257.3" width="107.6" height="57.8" fill="#e5c4f8"/><rect x="33.5" y="257.3" width="67.6" height="57.8" fill="#e0c0f8"/><rect x="100.6" y="257.3" width="67.6" height="57.8" fill="#e5c4f8"/><rect x="167.6" y="257.3" width="67.6" height="57.8" fill="#e9c8f8"/><rect x="234.7" y="257.3" width="67.6" height="57.8" fill="#eeccf8"/><rect x="301.7" y="257.3" width="67.6" height="57.8" fill="#f3d4f8"/><rect x="368.8" y="257.3" width="67.6" height="57.8" fill="#f6dcf7"/><rect x="435.8" y="257.3" width="67.6" height="57.8" fill="#f7e0f6"/><rect x="502.8" y="257.3" width="67.6" height="57.8" fill="#f8e4f6"/><rect x="569.9" y="257.3" width="67.6" height="57.8" fill="#f8e4f6"/><rect x="636.9" y="257.3" width="67.6" height="57.8" fill="#f7e0f6"/><rect x="704.0" y="257.3" width="107.6" height="57.8" fill="#f7e0f6"/><rect x="-73.5" y="314.5" width="107.6" height="57.8" fill="#e0c0f8"/><rect x="33.5" y="314.5" width="67.6" height="57.8" fill="#e0c0f8"/><rect x="100.6" y="314.5" width="67.6" height="57.8" fill="#e9c8f8"/><rect x="167.6" y="314.5" width="67.6" height="57.8" fill="#f2d0f8"/><rect x="234.7" y="314.5" width="67.6" height="57.8" fill="#f4d8f7"/><rect x="301.7" y="314.5" width="67.6" height="57.8" fill="#f6dcf7"/><rect x="368.8" y="314.5" width="67.6" height="57.8" fill="#f7e0f6"/><rect x="435.8" y="314.5" width="67.6" height="57.8" fill="#f8e4f6"/><rect x="502.8" y="314.5" width="67.6" height="57.8" fill="#f9e8f6"/><rect x="569.9" y="314.5" width="67.6" height="57.8" fill="#f9e8f6"/><rect x="636.9" y="314.5" width="67.6" height="57.8" fill="#f8e4f6"/><rect x="704.0" y="314.5" width="107.6" height="57.8" fill="#f9e8f6"/><rect x="-73.5" y="371.7" width="107.6" height="57.8" fill="#e9c8f8"/><rect x="33.5" y="371.7" width="67.6" height="57.8" fill="#e5c4f8"/><rect x="100.6" y="371.7" width="67.6" height="57.8" fill="#eeccf8"/><rect x="167.6" y="371.7" width="67.6" height="57.8" fill="#f3d4f8"/><rect x="234.7" y="371.7" width="67.6" height="57.8" fill="#f4d8f7"/><rect x="301.7" y="371.7" width="67.6" height="57.8" fill="#f6dcf7"/><rect x="368.8" y="371.7" width="67.6" height="57.8" fill="#f7e0f6"/><rect x="435.8" y="371.7" width="67.6" height="57.8" fill="#f9e8f6"/><rect x="502.8" y="371.7" width="67.6" height="57.8" fill="#faebf7"/><rect x="569.9" y="371.7" width="67.6" height="57.8" fill="#faebf7"/><rect x="636.9" y="371.7" width="67.6" height="57.8" fill="#faebf7"/><rect x="704.0" y="371.7" width="107.6" height="57.8" fill="#faebf7"/><rect x="-73.5" y="428.9" width="107.6" height="57.8" fill="#f4d8f7"/><rect x="33.5" y="428.9" width="67.6" height="57.8" fill="#eeccf8"/><rect x="100.6" y="428.9" width="67.6" height="57.8" fill="#f2d0f8"/><rect x="167.6" y="428.9" width="67.6" height="57.8" fill="#f4d8f7"/><rect x="234.7" y="428.9" width="67.6" height="57.8" fill="#f6dcf7"/><rect x="301.7" y="428.9" width="67.6" height="57.8" fill="#f7e0f6"/><rect x="368.8" y="428.9" width="67.6" height="57.8" fill="#f8e4f6"/><rect x="435.8" y="428.9" width="67.6" height="57.8" fill="#f9e8f6"/><rect x="502.8" y="428.9" width="67.6" height="57.8" fill="#faebf7"/><rect x="569.9" y="428.9" width="67.6" height="57.8" fill="#fbeff7"/><rect x="636.9" y="428.9" width="67.6" height="57.8" fill="#fbeff7"/><rect x="704.0" y="428.9" width="107.6" height="57.8" fill="#fbeff7"/><rect x="-73.5" y="486.0" width="107.6" height="57.8" fill="#f9e8f6"/><rect x="33.5" y="486.0" width="67.6" height="57.8" fill="#f6dcf7"/><rect x="100.6" y="486.0" width="67.6" height="57.8" fill="#f3d4f8"/><rect x="167.6" y="486.0" width="67.6" height="57.8" fill="#f6dcf7"/><rect x="234.7" y="486.0" width="67.6" height="57.8" fill="#f7e0f6"/><rect x="301.7" y="486.0" width="67.6" height="57.8" fill="#f7e0f6"/><rect x="368.8" y="486.0" width="67.6" height="57.8" fill="#f7e0f6"/><rect x="435.8" y="486.0" width="67.6" height="57.8" fill="#f6dcf7"/><rect x="502.8" y="486.0" width="67.6" height="57.8" fill="#f9e8f6"/><rect x="569.9" y="486.0" width="67.6" height="57.8" fill="#faebf7"/><rect x="636.9" y="486.0" width="67.6" height="57.8" fill="#faebf7"/><rect x="704.0" y="486.0" width="107.6" height="57.8" fill="#faebf7"/><rect x="-73.5" y="543.2" width="107.6" height="57.8" fill="#fbeff7"/><rect x="33.5" y="543.2" width="67.6" height="57.8" fill="#f9e8f6"/><rect x="100.6" y="543.2" width="67.6" height="57.8" fill="#f6dcf7"/><rect x="167.6" y="543.2" width="67.6" height="57.8" fill="#f2d0f8"/><rect x="234.7" y="543.2" width="67.6" height="57.8" fill="#f4d8f7"/><rect x="301.7" y="543.2" width="67.6" height="57.8" fill="#f7e0f6"/><rect x="368.8" y="543.2" width="67.6" height="57.8" fill="#f8e4f6"/><rect x="435.8" y="543.2" width="67.6" height="57.8" fill="#f8e4f6"/><rect x="502.8" y="543.2" width="67.6" height="57.8" fill="#faebf7"/><rect x="569.9" y="543.2" width="67.6" height="57.8" fill="#fcf2f8"/><rect x="636.9" y="543.2" width="67.6" height="57.8" fill="#f8e4f6"/><rect x="704.0" y="543.2" width="107.6" height="57.8" fill="#f3d4f8"/><rect x="-73.5" y="600.4" width="107.6" height="97.8" fill="#fbeff7"/><rect x="33.5" y="600.4" width="67.6" height="97.8" fill="#faebf7"/><rect x="100.6" y="600.4" width="67.6" height="97.8" fill="#f8e4f6"/><rect x="167.6" y="600.4" width="67.6" height="97.8" fill="#f3d4f8"/><rect x="234.7" y="600.4" width="67.6" height="97.8" fill="#f2d0f8"/><rect x="301.7" y="600.4" width="67.6" height="97.8" fill="#f6dcf7"/><rect x="368.8" y="600.4" width="67.6" height="97.8" fill="#f8e4f6"/><rect x="435.8" y="600.4" width="67.6" height="97.8" fill="#f9e8f6"/><rect x="502.8" y="600.4" width="67.6" height="97.8" fill="#fbeff7"/><rect x="569.9" y="600.4" width="67.6" height="97.8" fill="#fcf2f8"/><rect x="636.9" y="600.4" width="67.6" height="97.8" fill="#fbeff7"/><rect x="704.0" y="600.4" width="107.6" height="97.8" fill="#f8e4f6"/></g><g filter="url(#fb2)"><ellipse cx="26.5" cy="179.8" rx="45.4" ry="17.0" fill="#fdf7f9" transform="rotate(32 26.5 179.8)"/><path d="M113.6 113.6 159.0 98.4 177.9 124.9 143.8 143.8 113.6 136.3Z" fill="#d6b8f8"/><path d="M0.0 227.1 94.6 234.7 151.4 287.7 227.1 340.7 189.3 378.5 113.6 340.7 0.0 321.7Z" fill="#dcbcf8" fill-opacity="0.60"/><path d="M143.8 590.5 227.1 594.2 340.7 601.8 416.4 605.6 416.4 620.7 265.0 620.7 151.4 609.4Z" fill="#c6aef8" fill-opacity="0.80"/><path d="M560.2 546.9 643.5 560.2 741.9 582.9 741.9 599.9 643.5 579.1 556.4 562.1Z" fill="#fefafb"/><path d="M511.0 503.4 567.8 522.3 590.5 545.0 529.9 537.5Z" fill="#fef9fa"/></g><g filter="url(#fb3)"><path d="M407.4 27.1 461.7 27.1 515.9 45.2 534.0 90.4 525.0 162.7 479.7 189.9 425.5 198.9 371.2 189.9Z" fill="#94b6f3"/><path d="M172.3 121.2 199.5 108.5 226.6 75.9 262.7 59.7 298.9 47.0 335.1 39.8 371.2 32.5 407.4 34.4 443.6 45.2 479.7 54.2 488.8 81.4 479.7 126.6 461.7 153.7 425.5 171.8 389.3 180.8 371.2 173.6 335.1 162.7 298.9 159.1 262.7 144.7 226.6 132.0 190.4 126.6Z" fill="#78ecf8"/><path d="M201.3 112.1 226.6 86.8 262.7 63.3 298.9 52.4 335.1 45.2 371.2 36.2 398.4 38.0 416.5 50.6 425.5 72.3 418.3 99.5 407.4 126.6 389.3 144.7 371.2 153.7 335.1 144.7 298.9 137.4 262.7 126.6 226.6 117.5Z" fill="#68f07d"/><path d="M226.6 101.3 244.7 79.6 280.8 66.9 308.0 57.9 335.1 54.2 362.2 52.4 380.3 68.7 374.9 90.4 353.2 101.3 335.1 112.1 317.0 117.5 289.9 115.7 262.7 113.9 235.6 115.7Z" fill="#c8f434"/><path d="M230.2 108.5 244.7 86.8 271.8 75.9 298.9 59.7 326.0 54.2 349.5 61.5 371.2 79.6 362.2 94.0 335.1 108.5 298.9 112.1 271.8 106.7 244.7 115.7Z" fill="#f0b028"/><path d="M250.1 75.9 262.7 77.8 262.7 94.0 259.1 108.5 248.3 115.7 230.2 115.7 233.8 108.5 248.3 101.3 250.1 90.4Z" fill="#d82b25"/><ellipse cx="309.8" cy="90.4" rx="18.1" ry="9.9" fill="#d82b25"/><ellipse cx="313.4" cy="57.9" rx="10.8" ry="6.3" fill="#dc2d27"/><ellipse cx="255.5" cy="94.0" rx="4.5" ry="8.1" fill="#860d0d"/><ellipse cx="308.0" cy="90.4" rx="9.9" ry="4.5" fill="#860d0d"/><ellipse cx="226.6" cy="83.2" rx="5.4" ry="3.6" fill="#c8f434"/><ellipse cx="212.1" cy="104.9" rx="5.4" ry="2.7" fill="#ddf731"/><path d="M123.5 226.0 121.7 180.8 127.1 162.7 150.6 153.7 165.1 159.1 168.7 180.8 159.7 198.9 157.9 217.0 141.6 227.8Z" fill="#78f4f8"/><path d="M127.1 220.6 127.1 180.8 136.2 166.4 154.2 159.1 163.3 162.7 163.3 180.8 154.2 195.3 154.2 213.4 139.8 222.4Z" fill="#68f070"/><ellipse cx="148.8" cy="177.2" rx="7.2" ry="5.1" fill="#c8f434"/><ellipse cx="150.6" cy="197.1" rx="4.0" ry="2.9" fill="#ddf731"/><ellipse cx="155.2" cy="164.6" rx="2.9" ry="2.2" fill="#c8f434"/><ellipse cx="148.5" cy="177.2" rx="1.8" ry="1.8" fill="#ee9426"/><ellipse cx="157.9" cy="61.5" rx="8.1" ry="5.1" fill="#78f4f8"/><ellipse cx="157.9" cy="61.5" rx="3.3" ry="2.2" fill="#72f060"/><ellipse cx="92.7" cy="73.8" rx="9.5" ry="4.5" fill="#a0a8f6"/><ellipse cx="87.1" cy="208.2" rx="7.6" ry="3.8" fill="#a0a8f6"/><ellipse cx="662.4" cy="326.3" rx="26.5" ry="10.6" fill="#a0a8f6"/><ellipse cx="666.2" cy="326.3" rx="15.1" ry="5.3" fill="#73f6e8"/><ellipse cx="671.8" cy="326.3" rx="5.3" ry="2.6" fill="#87f04a"/><ellipse cx="246.0" cy="602.6" rx="17.0" ry="3.8" fill="#88c8f0"/><ellipse cx="670.7" cy="560.2" rx="5.3" ry="3.0" fill="#73f6e8"/><ellipse cx="37.9" cy="479.9" rx="6.1" ry="3.0" fill="#a0a8f6"/></g></g>
<g clip-path="url(#pc)"><use href="#coast"/></g>
<rect x="0" y="0" width="737.5" height="629.0" fill="none" stroke="#707070" stroke-width="1.6"/>
<path d="M67.0 629.0v-7M67.0 0v7M201.1 629.0v-7M201.1 0v7M335.2 629.0v-7M335.2 0v7M469.3 629.0v-7M469.3 0v7M603.4 629.0v-7M603.4 0v7M737.5 629.0v-7M737.5 0v7M0 629.0h7M737.5 629.0h-7M0 514.6h7M737.5 514.6h-7M0 400.3h7M737.5 400.3h-7M0 285.9h7M737.5 285.9h-7M0 171.5h7M737.5 171.5h-7M0 57.2h7M737.5 57.2h-7" stroke="#505050" stroke-width="1.6" fill="none"/>
<text x="67.0" y="689.5" text-anchor="middle" font-size="48" fill="#262626">100</text>
<text x="201.1" y="689.5" text-anchor="middle" font-size="48" fill="#262626">110</text>
<text x="335.2" y="689.5" text-anchor="middle" font-size="48" fill="#262626">120</text>
<text x="469.3" y="689.5" text-anchor="middle" font-size="48" fill="#262626">130</text>
<text x="603.4" y="689.5" text-anchor="middle" font-size="48" fill="#262626">140</text>
<text x="737.5" y="689.5" text-anchor="middle" font-size="48" fill="#262626">150</text>
<text x="-16" y="646.5" text-anchor="end" font-size="48" fill="#262626">10</text>
<text transform="translate(-91.5,646.5) scale(0.70,1)" text-anchor="middle" font-size="48" fill="#262626">−</text>
<text x="-16" y="532.1" text-anchor="end" font-size="48" fill="#262626">0</text>
<text x="-16" y="417.8" text-anchor="end" font-size="48" fill="#262626">10</text>
<text x="-16" y="303.4" text-anchor="end" font-size="48" fill="#262626">20</text>
<text x="-16" y="189.0" text-anchor="end" font-size="48" fill="#262626">30</text>
<text x="-16" y="74.7" text-anchor="end" font-size="48" fill="#262626">40</text>
<text x="368.5" y="754.0" text-anchor="middle" font-size="52" fill="#262626">Longitude</text>
<text transform="translate(-122.2,313.5) rotate(-90) scale(0.966,1)" text-anchor="middle" font-size="52" fill="#262626">Latitude</text>
<rect x="808.6" y="0" width="53.2" height="629.0" fill="url(#cb)" stroke="#707070" stroke-width="1.6"/>
<path d="M861.8 576.6h-7M861.8 524.2h-7M861.8 471.8h-7M861.8 419.3h-7M861.8 366.9h-7M861.8 314.5h-7M861.8 262.1h-7M861.8 209.7h-7M861.8 157.2h-7M861.8 104.8h-7M861.8 52.4h-7" stroke="#404040" stroke-width="1.6"/>
<text x="875.8" y="644.0" font-size="41" fill="#262626">0</text>
<text x="875.8" y="591.6" font-size="41" fill="#262626">0.1</text>
<text x="875.8" y="539.2" font-size="41" fill="#262626">0.2</text>
<text x="875.8" y="486.8" font-size="41" fill="#262626">0.3</text>
<text x="875.8" y="434.3" font-size="41" fill="#262626">0.4</text>
<text x="875.8" y="381.9" font-size="41" fill="#262626">0.5</text>
<text x="875.8" y="329.5" font-size="41" fill="#262626">0.6</text>
<text x="875.8" y="277.1" font-size="41" fill="#262626">0.7</text>
<text x="875.8" y="224.7" font-size="41" fill="#262626">0.8</text>
<text x="875.8" y="172.2" font-size="41" fill="#262626">0.9</text>
<text x="875.8" y="119.8" font-size="41" fill="#262626">1</text>
<text x="875.8" y="67.4" font-size="41" fill="#262626">1.1</text>
<text x="875.8" y="15.0" font-size="41" fill="#262626">1.2</text>
<text transform="translate(834.7,-23.5) scale(0.95,1)" text-anchor="middle" font-size="41.5" font-weight="bold" fill="#000">DU</text>
</g>
<text transform="translate(538.0,54.0) scale(0.9046,1)" text-anchor="middle" font-size="53" font-weight="bold" fill="#000">Spring(MAM) SO2</text>
<g transform="translate(1288.5,71.0)">
<g clip-path="url(#pc)"><g filter="url(#fb1)"><rect x="-73.5" y="-68.6" width="107.6" height="97.8" fill="#f2d0f8"/><rect x="33.5" y="-68.6" width="67.6" height="97.8" fill="#eeccf8"/><rect x="100.6" y="-68.6" width="67.6" height="97.8" fill="#e5c4f8"/><rect x="167.6" y="-68.6" width="67.6" height="97.8" fill="#dcbcf8"/><rect x="234.7" y="-68.6" width="67.6" height="97.8" fill="#d1b5f8"/><rect x="301.7" y="-68.6" width="67.6" height="97.8" fill="#c6aef8"/><rect x="368.8" y="-68.6" width="67.6" height="97.8" fill="#b0a3f8"/><rect x="435.8" y="-68.6" width="67.6" height="97.8" fill="#b0a3f8"/><rect x="502.8" y="-68.6" width="67.6" height="97.8" fill="#b8a7f8"/><rect x="569.9" y="-68.6" width="67.6" height="97.8" fill="#d1b5f8"/><rect x="636.9" y="-68.6" width="67.6" height="97.8" fill="#dcbcf8"/><rect x="704.0" y="-68.6" width="107.6" height="97.8" fill="#e9c8f8"/><rect x="-73.5" y="28.6" width="107.6" height="57.8" fill="#f6dcf7"/><rect x="33.5" y="28.6" width="67.6" height="57.8" fill="#f2d0f8"/><rect x="100.6" y="28.6" width="67.6" height="57.8" fill="#dcbcf8"/><rect x="167.6" y="28.6" width="67.6" height="57.8" fill="#b8a7f8"/><rect x="234.7" y="28.6" width="67.6" height="57.8" fill="#a0a8f6"/><rect x="301.7" y="28.6" width="67.6" height="57.8" fill="#a0a8f6"/><rect x="368.8" y="28.6" width="67.6" height="57.8" fill="#a8a0f8"/><rect x="435.8" y="28.6" width="67.6" height="57.8" fill="#a8a0f8"/><rect x="502.8" y="28.6" width="67.6" height="57.8" fill="#b8a7f8"/><rect x="569.9" y="28.6" width="67.6" height="57.8" fill="#c6aef8"/><rect x="636.9" y="28.6" width="67.6" height="57.8" fill="#d1b5f8"/><rect x="704.0" y="28.6" width="107.6" height="57.8" fill="#e5c4f8"/><rect x="-73.5" y="85.8" width="107.6" height="57.8" fill="#f8e4f6"/><rect x="33.5" y="85.8" width="67.6" height="57.8" fill="#f3d4f8"/><rect x="100.6" y="85.8" width="67.6" height="57.8" fill="#dcbcf8"/><rect x="167.6" y="85.8" width="67.6" height="57.8" fill="#c0aaf8"/><rect x="234.7" y="85.8" width="67.6" height="57.8" fill="#b0a3f8"/><rect x="301.7" y="85.8" width="67.6" height="57.8" fill="#a8a0f8"/><rect x="368.8" y="85.8" width="67.6" height="57.8" fill="#a8a0f8"/><rect x="435.8" y="85.8" width="67.6" height="57.8" fill="#a8a0f8"/><rect x="502.8" y="85.8" width="67.6" height="57.8" fill="#b0a3f8"/><rect x="569.9" y="85.8" width="67.6" height="57.8" fill="#c0aaf8"/><rect x="636.9" y="85.8" width="67.6" height="57.8" fill="#e5c4f8"/><rect x="704.0" y="85.8" width="107.6" height="57.8" fill="#f2d0f8"/><rect x="-73.5" y="143.0" width="107.6" height="57.8" fill="#fdf6f8"/><rect x="33.5" y="143.0" width="67.6" height="57.8" fill="#fbeff7"/><rect x="100.6" y="143.0" width="67.6" height="57.8" fill="#e0c0f8"/><rect x="167.6" y="143.0" width="67.6" height="57.8" fill="#c6aef8"/><rect x="234.7" y="143.0" width="67.6" height="57.8" fill="#c0aaf8"/><rect x="301.7" y="143.0" width="67.6" height="57.8" fill="#b8a7f8"/><rect x="368.8" y="143.0" width="67.6" height="57.8" fill="#c0aaf8"/><rect x="435.8" y="143.0" width="67.6" height="57.8" fill="#c6aef8"/><rect x="502.8" y="143.0" width="67.6" height="57.8" fill="#e5c4f8"/><rect x="569.9" y="143.0" width="67.6" height="57.8" fill="#f3d4f8"/><rect x="636.9" y="143.0" width="67.6" height="57.8" fill="#f4d8f7"/><rect x="704.0" y="143.0" width="107.6" height="57.8" fill="#f4d8f7"/><rect x="-73.5" y="200.1" width="107.6" height="57.8" fill="#fcf2f8"/><rect x="33.5" y="200.1" width="67.6" height="57.8" fill="#f9e8f6"/><rect x="100.6" y="200.1" width="67.6" height="57.8" fill="#e9c8f8"/><rect x="167.6" y="200.1" width="67.6" height="57.8" fill="#d6b8f8"/><rect x="234.7" y="200.1" width="67.6" height="57.8" fill="#d6b8f8"/><rect x="301.7" y="200.1" width="67.6" height="57.8" fill="#d1b5f8"/><rect x="368.8" y="200.1" width="67.6" height="57.8" fill="#e0c0f8"/><rect x="435.8" y="200.1" width="67.6" height="57.8" fill="#f3d4f8"/><rect x="502.8" y="200.1" width="67.6" height="57.8" fill="#f6dcf7"/><rect x="569.9" y="200.1" width="67.6" height="57.8" fill="#f7e0f6"/><rect x="636.9" y="200.1" width="67.6" height="57.8" fill="#f7e0f6"/><rect x="704.0" y="200.1" width="107.6" height="57.8" fill="#f8e4f6"/><rect x="-73.5" y="257.3" width="107.6" height="57.8" fill="#fbeff7"/><rect x="33.5" y="257.3" width="67.6" height="57.8" fill="#f7e0f6"/><rect x="100.6" y="257.3" width="67.6" height="57.8" fill="#eeccf8"/><rect x="167.6" y="257.3" width="67.6" height="57.8" fill="#e9c8f8"/><rect x="234.7" y="257.3" width="67.6" height="57.8" fill="#e5c4f8"/><rect x="301.7" y="257.3" width="67.6" height="57.8" fill="#e9c8f8"/><rect x="368.8" y="257.3" width="67.6" height="57.8" fill="#f3d4f8"/><rect x="435.8" y="257.3" width="67.6" height="57.8" fill="#f7e0f6"/><rect x="502.8" y="257.3" width="67.6" height="57.8" fill="#f7e0f6"/><rect x="569.9" y="257.3" width="67.6" height="57.8" fill="#f6dcf7"/><rect x="636.9" y="257.3" width="67.6" height="57.8" fill="#f6dcf7"/><rect x="704.0" y="257.3" width="107.6" height="57.8" fill="#f8e4f6"/><rect x="-73.5" y="314.5" width="107.6" height="57.8" fill="#f9e8f6"/><rect x="33.5" y="314.5" width="67.6" height="57.8" fill="#f4d8f7"/><rect x="100.6" y="314.5" width="67.6" height="57.8" fill="#e5c4f8"/><rect x="167.6" y="314.5" width="67.6" height="57.8" fill="#e5c4f8"/><rect x="234.7" y="314.5" width="67.6" height="57.8" fill="#eeccf8"/><rect x="301.7" y="314.5" width="67.6" height="57.8" fill="#f2d0f8"/><rect x="368.8" y="314.5" width="67.6" height="57.8" fill="#f4d8f7"/><rect x="435.8" y="314.5" width="67.6" height="57.8" fill="#f7e0f6"/><rect x="502.8" y="314.5" width="67.6" height="57.8" fill="#f7e0f6"/><rect x="569.9" y="314.5" width="67.6" height="57.8" fill="#f6dcf7"/><rect x="636.9" y="314.5" width="67.6" height="57.8" fill="#f4d8f7"/><rect x="704.0" y="314.5" width="107.6" height="57.8" fill="#f8e4f6"/><rect x="-73.5" y="371.7" width="107.6" height="57.8" fill="#f7e0f6"/><rect x="33.5" y="371.7" width="67.6" height="57.8" fill="#f2d0f8"/><rect x="100.6" y="371.7" width="67.6" height="57.8" fill="#e5c4f8"/><rect x="167.6" y="371.7" width="67.6" height="57.8" fill="#eeccf8"/><rect x="234.7" y="371.7" width="67.6" height="57.8" fill="#f2d0f8"/><rect x="301.7" y="371.7" width="67.6" height="57.8" fill="#f3d4f8"/><rect x="368.8" y="371.7" width="67.6" height="57.8" fill="#f4d8f7"/><rect x="435.8" y="371.7" width="67.6" height="57.8" fill="#f7e0f6"/><rect x="502.8" y="371.7" width="67.6" height="57.8" fill="#f8e4f6"/><rect x="569.9" y="371.7" width="67.6" height="57.8" fill="#f8e4f6"/><rect x="636.9" y="371.7" width="67.6" height="57.8" fill="#f8e4f6"/><rect x="704.0" y="371.7" width="107.6" height="57.8" fill="#f9e8f6"/><rect x="-73.5" y="428.9" width="107.6" height="57.8" fill="#f4d8f7"/><rect x="33.5" y="428.9" width="67.6" height="57.8" fill="#eeccf8"/><rect x="100.6" y="428.9" width="67.6" height="57.8" fill="#e0c0f8"/><rect x="167.6" y="428.9" width="67.6" height="57.8" fill="#f2d0f8"/><rect x="234.7" y="428.9" width="67.6" height="57.8" fill="#f4d8f7"/><rect x="301.7" y="428.9" width="67.6" height="57.8" fill="#f4d8f7"/><rect x="368.8" y="428.9" width="67.6" height="57.8" fill="#f6dcf7"/><rect x="435.8" y="428.9" width="67.6" height="57.8" fill="#f8e4f6"/><rect x="502.8" y="428.9" width="67.6" height="57.8" fill="#f9e8f6"/><rect x="569.9" y="428.9" width="67.6" height="57.8" fill="#faebf7"/><rect x="636.9" y="428.9" width="67.6" height="57.8" fill="#faebf7"/><rect x="704.0" y="428.9" width="107.6" height="57.8" fill="#faebf7"/><rect x="-73.5" y="486.0" width="107.6" height="57.8" fill="#faebf7"/><rect x="33.5" y="486.0" width="67.6" height="57.8" fill="#f4d8f7"/><rect x="100.6" y="486.0" width="67.6" height="57.8" fill="#e9c8f8"/><rect x="167.6" y="486.0" width="67.6" height="57.8" fill="#f4d8f7"/><rect x="234.7" y="486.0" width="67.6" height="57.8" fill="#f6dcf7"/><rect x="301.7" y="486.0" width="67.6" height="57.8" fill="#f6dcf7"/><rect x="368.8" y="486.0" width="67.6" height="57.8" fill="#f6dcf7"/><rect x="435.8" y="486.0" width="67.6" height="57.8" fill="#f6dcf7"/><rect x="502.8" y="486.0" width="67.6" height="57.8" fill="#f9e8f6"/><rect x="569.9" y="486.0" width="67.6" height="57.8" fill="#faebf7"/><rect x="636.9" y="486.0" width="67.6" height="57.8" fill="#faebf7"/><rect x="704.0" y="486.0" width="107.6" height="57.8" fill="#f9e8f6"/><rect x="-73.5" y="543.2" width="107.6" height="57.8" fill="#fcf2f8"/><rect x="33.5" y="543.2" width="67.6" height="57.8" fill="#faebf7"/><rect x="100.6" y="543.2" width="67.6" height="57.8" fill="#f8e4f6"/><rect x="167.6" y="543.2" width="67.6" height="57.8" fill="#f4d8f7"/><rect x="234.7" y="543.2" width="67.6" height="57.8" fill="#f7e0f6"/><rect x="301.7" y="543.2" width="67.6" height="57.8" fill="#f8e4f6"/><rect x="368.8" y="543.2" width="67.6" height="57.8" fill="#f9e8f6"/><rect x="435.8" y="543.2" width="67.6" height="57.8" fill="#faebf7"/><rect x="502.8" y="543.2" width="67.6" height="57.8" fill="#fbeff7"/><rect x="569.9" y="543.2" width="67.6" height="57.8" fill="#fdf6f8"/><rect x="636.9" y="543.2" width="67.6" height="57.8" fill="#faebf7"/><rect x="704.0" y="543.2" width="107.6" height="57.8" fill="#e5c4f8"/><rect x="-73.5" y="600.4" width="107.6" height="97.8" fill="#fdf6f8"/><rect x="33.5" y="600.4" width="67.6" height="97.8" fill="#fbeff7"/><rect x="100.6" y="600.4" width="67.6" height="97.8" fill="#faebf7"/><rect x="167.6" y="600.4" width="67.6" height="97.8" fill="#f4d8f7"/><rect x="234.7" y="600.4" width="67.6" height="97.8" fill="#f6dcf7"/><rect x="301.7" y="600.4" width="67.6" height="97.8" fill="#f8e4f6"/><rect x="368.8" y="600.4" width="67.6" height="97.8" fill="#faebf7"/><rect x="435.8" y="600.4" width="67.6" height="97.8" fill="#fbeff7"/><rect x="502.8" y="600.4" width="67.6" height="97.8" fill="#fdf6f8"/><rect x="569.9" y="600.4" width="67.6" height="97.8" fill="#fdf6f8"/><rect x="636.9" y="600.4" width="67.6" height="97.8" fill="#fbeff7"/><rect x="704.0" y="600.4" width="107.6" height="97.8" fill="#f8e4f6"/></g><g filter="url(#fb2)"><ellipse cx="26.5" cy="179.8" rx="45.4" ry="17.0" fill="#fdf7f9" transform="rotate(32 26.5 179.8)"/><path d="M75.7 265.0 189.3 272.5 265.0 340.7 302.8 416.4 265.0 473.1 151.4 473.1 94.6 378.5Z" fill="#dcbcf8" fill-opacity="0.70"/><path d="M56.8 435.3 113.6 446.6 132.5 492.1 75.7 484.5Z" fill="#c0aaf8" fill-opacity="0.80"/><path d="M681.3 545.0 741.9 556.4 741.9 579.1 681.3 567.8Z" fill="#c0aaf8"/><path d="M560.2 546.9 643.5 560.2 741.9 582.9 741.9 599.9 643.5 579.1 556.4 562.1Z" fill="#fefafb"/><path d="M511.0 503.4 567.8 522.3 590.5 545.0 529.9 537.5Z" fill="#fef9fa"/></g><g filter="url(#fb3)"><path d="M171.8 153.7 226.1 144.7 262.2 171.8 244.2 198.9 189.9 208.0Z" fill="#c6aef8" fill-opacity="0.70"/><path d="M175.4 121.2 200.8 104.9 226.1 81.4 253.2 68.7 280.3 61.5 307.5 54.2 334.6 45.2 361.7 41.6 379.8 47.0 388.8 63.3 379.8 81.4 361.7 94.0 343.6 101.3 334.6 112.1 316.5 119.3 289.4 126.6 262.2 130.2 235.1 126.6 208.0 124.8Z" fill="#78ecf8"/><path d="M334.6 28.9 370.7 18.1 425.0 18.1 434.0 36.2 388.8 45.2 352.7 45.2Z" fill="#80daf4" fill-opacity="0.80"/><path d="M200.8 112.1 217.0 94.0 235.1 79.6 262.2 72.3 289.4 63.3 316.5 56.1 343.6 50.6 361.7 54.2 370.7 68.7 361.7 83.2 343.6 94.0 325.5 108.5 298.4 117.5 262.2 119.3 235.1 117.5Z" fill="#68f070"/><path d="M222.5 108.5 226.1 86.8 247.8 75.9 265.9 75.9 276.7 86.8 291.2 90.4 316.5 85.0 325.5 90.4 312.9 99.5 289.4 101.3 271.3 101.3 258.6 112.1 240.5 115.7Z" fill="#a2f13e"/><path d="M253.2 75.9 262.2 77.8 262.2 94.0 256.8 104.9 249.6 108.5 229.7 113.9 226.1 110.3 244.2 101.3 251.4 90.4Z" fill="#dc2d27"/><ellipse cx="222.5" cy="88.6" rx="3.6" ry="2.7" fill="#ea5e26"/><ellipse cx="280.3" cy="94.0" rx="2.9" ry="2.2" fill="#ea5e26"/><ellipse cx="258.6" cy="76.9" rx="5.8" ry="2.2" fill="#ea5e26"/><ellipse cx="316.5" cy="57.9" rx="5.4" ry="2.7" fill="#f0b028"/><ellipse cx="211.6" cy="104.9" rx="7.2" ry="2.7" fill="#87f04a"/><ellipse cx="304.7" cy="90.4" rx="13.6" ry="7.2" fill="#c82020"/><ellipse cx="303.8" cy="90.4" rx="9.9" ry="4.5" fill="#780808"/><ellipse cx="255.0" cy="94.0" rx="3.6" ry="5.4" fill="#901010"/><path d="M124.8 226.0 123.0 180.8 128.4 162.7 146.5 159.1 161.0 162.7 164.6 180.8 162.8 202.5 157.4 217.0 139.3 227.8Z" fill="#78f4f8"/><path d="M128.4 208.0 126.6 180.8 135.7 171.8 153.7 162.7 159.2 171.8 157.4 189.9 157.4 204.3 146.5 209.8Z" fill="#68f070"/><ellipse cx="153.7" cy="162.7" rx="4.0" ry="3.3" fill="#b5f239"/><ellipse cx="151.9" cy="198.9" rx="3.6" ry="3.3" fill="#a2f13e"/><ellipse cx="155.6" cy="61.5" rx="8.7" ry="5.8" fill="#78f4f8"/><ellipse cx="155.6" cy="61.5" rx="3.3" ry="2.2" fill="#68f070"/><ellipse cx="197.1" cy="47.4" rx="5.8" ry="2.9" fill="#78f4f8"/><ellipse cx="256.8" cy="164.6" rx="10.8" ry="4.5" fill="#78f4f8"/><ellipse cx="92.7" cy="71.9" rx="9.5" ry="4.5" fill="#a0a8f6"/><ellipse cx="88.9" cy="208.9" rx="7.6" ry="3.8" fill="#a0a8f6"/><ellipse cx="242.2" cy="250.6" rx="8.3" ry="5.3" fill="#78f4f8"/><ellipse cx="242.2" cy="250.6" rx="3.8" ry="2.6" fill="#68f070"/><ellipse cx="604.8" cy="120.4" rx="8.3" ry="6.8" fill="#78f4f8"/><ellipse cx="462.5" cy="174.9" rx="4.5" ry="3.0" fill="#78ecf8"/><ellipse cx="246.0" cy="605.6" rx="17.0" ry="3.8" fill="#88c8f0"/><ellipse cx="670.7" cy="560.2" rx="5.3" ry="3.0" fill="#73f6e8"/><ellipse cx="666.2" cy="327.4" rx="15.1" ry="4.5" fill="#a8a0f8"/></g></g>
<g clip-path="url(#pc)"><use href="#coast"/></g>
<rect x="0" y="0" width="737.5" height="629.0" fill="none" stroke="#707070" stroke-width="1.6"/>
<path d="M67.0 629.0v-7M67.0 0v7M201.1 629.0v-7M201.1 0v7M335.2 629.0v-7M335.2 0v7M469.3 629.0v-7M469.3 0v7M603.4 629.0v-7M603.4 0v7M737.5 629.0v-7M737.5 0v7M0 629.0h7M737.5 629.0h-7M0 514.6h7M737.5 514.6h-7M0 400.3h7M737.5 400.3h-7M0 285.9h7M737.5 285.9h-7M0 171.5h7M737.5 171.5h-7M0 57.2h7M737.5 57.2h-7" stroke="#505050" stroke-width="1.6" fill="none"/>
<text x="67.0" y="689.5" text-anchor="middle" font-size="48" fill="#262626">100</text>
<text x="201.1" y="689.5" text-anchor="middle" font-size="48" fill="#262626">110</text>
<text x="335.2" y="689.5" text-anchor="middle" font-size="48" fill="#262626">120</text>
<text x="469.3" y="689.5" text-anchor="middle" font-size="48" fill="#262626">130</text>
<text x="603.4" y="689.5" text-anchor="middle" font-size="48" fill="#262626">140</text>
<text x="737.5" y="689.5" text-anchor="middle" font-size="48" fill="#262626">150</text>
<text x="-16" y="646.5" text-anchor="end" font-size="48" fill="#262626">10</text>
<text transform="translate(-91.5,646.5) scale(0.70,1)" text-anchor="middle" font-size="48" fill="#262626">−</text>
<text x="-16" y="532.1" text-anchor="end" font-size="48" fill="#262626">0</text>
<text x="-16" y="417.8" text-anchor="end" font-size="48" fill="#262626">10</text>
<text x="-16" y="303.4" text-anchor="end" font-size="48" fill="#262626">20</text>
<text x="-16" y="189.0" text-anchor="end" font-size="48" fill="#262626">30</text>
<text x="-16" y="74.7" text-anchor="end" font-size="48" fill="#262626">40</text>
<text x="368.5" y="754.0" text-anchor="middle" font-size="52" fill="#262626">Longitude</text>
<text transform="translate(-122.2,313.5) rotate(-90) scale(0.966,1)" text-anchor="middle" font-size="52" fill="#262626">Latitude</text>
<rect x="808.6" y="0" width="53.2" height="629.0" fill="url(#cb)" stroke="#707070" stroke-width="1.6"/>
<path d="M861.8 576.6h-7M861.8 524.2h-7M861.8 471.8h-7M861.8 419.3h-7M861.8 366.9h-7M861.8 314.5h-7M861.8 262.1h-7M861.8 209.7h-7M861.8 157.2h-7M861.8 104.8h-7M861.8 52.4h-7" stroke="#404040" stroke-width="1.6"/>
<text x="875.8" y="644.0" font-size="41" fill="#262626">0</text>
<text x="875.8" y="591.6" font-size="41" fill="#262626">0.1</text>
<text x="875.8" y="539.2" font-size="41" fill="#262626">0.2</text>
<text x="875.8" y="486.8" font-size="41" fill="#262626">0.3</text>
<text x="875.8" y="434.3" font-size="41" fill="#262626">0.4</text>
<text x="875.8" y="381.9" font-size="41" fill="#262626">0.5</text>
<text x="875.8" y="329.5" font-size="41" fill="#262626">0.6</text>
<text x="875.8" y="277.1" font-size="41" fill="#262626">0.7</text>
<text x="875.8" y="224.7" font-size="41" fill="#262626">0.8</text>
<text x="875.8" y="172.2" font-size="41" fill="#262626">0.9</text>
<text x="875.8" y="119.8" font-size="41" fill="#262626">1</text>
<text x="875.8" y="67.4" font-size="41" fill="#262626">1.1</text>
<text x="875.8" y="15.0" font-size="41" fill="#262626">1.2</text>
<text transform="translate(834.7,-23.5) scale(0.95,1)" text-anchor="middle" font-size="41.5" font-weight="bold" fill="#000">DU</text>
</g>
<text transform="translate(1646.5,54.0) scale(0.9220,1)" text-anchor="middle" font-size="53" font-weight="bold" fill="#000">Summer(JJA) SO2</text>
<g transform="translate(180.0,904.0)">
<g clip-path="url(#pc)"><g filter="url(#fb1)"><rect x="-73.5" y="-68.6" width="107.6" height="97.8" fill="#dcbcf8"/><rect x="33.5" y="-68.6" width="67.6" height="97.8" fill="#d1b5f8"/><rect x="100.6" y="-68.6" width="67.6" height="97.8" fill="#c0aaf8"/><rect x="167.6" y="-68.6" width="67.6" height="97.8" fill="#b0a3f8"/><rect x="234.7" y="-68.6" width="67.6" height="97.8" fill="#a0a8f6"/><rect x="301.7" y="-68.6" width="67.6" height="97.8" fill="#8cc2f1"/><rect x="368.8" y="-68.6" width="67.6" height="97.8" fill="#78ecf8"/><rect x="435.8" y="-68.6" width="67.6" height="97.8" fill="#80daf4"/><rect x="502.8" y="-68.6" width="67.6" height="97.8" fill="#a0a8f6"/><rect x="569.9" y="-68.6" width="67.6" height="97.8" fill="#b0a3f8"/><rect x="636.9" y="-68.6" width="67.6" height="97.8" fill="#c6aef8"/><rect x="704.0" y="-68.6" width="107.6" height="97.8" fill="#d6b8f8"/><rect x="-73.5" y="28.6" width="107.6" height="57.8" fill="#e5c4f8"/><rect x="33.5" y="28.6" width="67.6" height="57.8" fill="#d1b5f8"/><rect x="100.6" y="28.6" width="67.6" height="57.8" fill="#a8a0f8"/><rect x="167.6" y="28.6" width="67.6" height="57.8" fill="#8cc2f1"/><rect x="234.7" y="28.6" width="67.6" height="57.8" fill="#78ecf8"/><rect x="301.7" y="28.6" width="67.6" height="57.8" fill="#78ecf8"/><rect x="368.8" y="28.6" width="67.6" height="57.8" fill="#78ecf8"/><rect x="435.8" y="28.6" width="67.6" height="57.8" fill="#78ecf8"/><rect x="502.8" y="28.6" width="67.6" height="57.8" fill="#94b6f3"/><rect x="569.9" y="28.6" width="67.6" height="57.8" fill="#a8a0f8"/><rect x="636.9" y="28.6" width="67.6" height="57.8" fill="#c6aef8"/><rect x="704.0" y="28.6" width="107.6" height="57.8" fill="#dcbcf8"/><rect x="-73.5" y="85.8" width="107.6" height="57.8" fill="#f3d4f8"/><rect x="33.5" y="85.8" width="67.6" height="57.8" fill="#dcbcf8"/><rect x="100.6" y="85.8" width="67.6" height="57.8" fill="#b0a3f8"/><rect x="167.6" y="85.8" width="67.6" height="57.8" fill="#94b6f3"/><rect x="234.7" y="85.8" width="67.6" height="57.8" fill="#88c8f0"/><rect x="301.7" y="85.8" width="67.6" height="57.8" fill="#78ecf8"/><rect x="368.8" y="85.8" width="67.6" height="57.8" fill="#78ecf8"/><rect x="435.8" y="85.8" width="67.6" height="57.8" fill="#8cc2f1"/><rect x="502.8" y="85.8" width="67.6" height="57.8" fill="#a0a8f6"/><rect x="569.9" y="85.8" width="67.6" height="57.8" fill="#b0a3f8"/><rect x="636.9" y="85.8" width="67.6" height="57.8" fill="#dcbcf8"/><rect x="704.0" y="85.8" width="107.6" height="57.8" fill="#e5c4f8"/><rect x="-73.5" y="143.0" width="107.6" height="57.8" fill="#fbeff7"/><rect x="33.5" y="143.0" width="67.6" height="57.8" fill="#f3d4f8"/><rect x="100.6" y="143.0" width="67.6" height="57.8" fill="#b0a3f8"/><rect x="167.6" y="143.0" width="67.6" height="57.8" fill="#94b6f3"/><rect x="234.7" y="143.0" width="67.6" height="57.8" fill="#88c8f0"/><rect x="301.7" y="143.0" width="67.6" height="57.8" fill="#8cc2f1"/><rect x="368.8" y="143.0" width="67.6" height="57.8" fill="#94b6f3"/><rect x="435.8" y="143.0" width="67.6" height="57.8" fill="#a0a8f6"/><rect x="502.8" y="143.0" width="67.6" height="57.8" fill="#dcbcf8"/><rect x="569.9" y="143.0" width="67.6" height="57.8" fill="#f2d0f8"/><rect x="636.9" y="143.0" width="67.6" height="57.8" fill="#f4d8f7"/><rect x="704.0" y="143.0" width="107.6" height="57.8" fill="#f4d8f7"/><rect x="-73.5" y="200.1" width="107.6" height="57.8" fill="#e0c0f8"/><rect x="33.5" y="200.1" width="67.6" height="57.8" fill="#d1b5f8"/><rect x="100.6" y="200.1" width="67.6" height="57.8" fill="#b8a7f8"/><rect x="167.6" y="200.1" width="67.6" height="57.8" fill="#a0a8f6"/><rect x="234.7" y="200.1" width="67.6" height="57.8" fill="#a0a8f6"/><rect x="301.7" y="200.1" width="67.6" height="57.8" fill="#a8a0f8"/><rect x="368.8" y="200.1" width="67.6" height="57.8" fill="#dcbcf8"/><rect x="435.8" y="200.1" width="67.6" height="57.8" fill="#f3d4f8"/><rect x="502.8" y="200.1" width="67.6" height="57.8" fill="#f7e0f6"/><rect x="569.9" y="200.1" width="67.6" height="57.8" fill="#f8e4f6"/><rect x="636.9" y="200.1" width="67.6" height="57.8" fill="#f8e4f6"/><rect x="704.0" y="200.1" width="107.6" height="57.8" fill="#f8e4f6"/><rect x="-73.5" y="257.3" width="107.6" height="57.8" fill="#dcbcf8"/><rect x="33.5" y="257.3" width="67.6" height="57.8" fill="#c6aef8"/><rect x="100.6" y="257.3" width="67.6" height="57.8" fill="#cbb1f8"/><rect x="167.6" y="257.3" width="67.6" height="57.8" fill="#e0c0f8"/><rect x="234.7" y="257.3" width="67.6" height="57.8" fill="#eeccf8"/><rect x="301.7" y="257.3" width="67.6" height="57.8" fill="#f3d4f8"/><rect x="368.8" y="257.3" width="67.6" height="57.8" fill="#f6dcf7"/><rect x="435.8" y="257.3" width="67.6" height="57.8" fill="#f8e4f6"/><rect x="502.8" y="257.3" width="67.6" height="57.8" fill="#f9e8f6"/><rect x="569.9" y="257.3" width="67.6" height="57.8" fill="#f9e8f6"/><rect x="636.9" y="257.3" width="67.6" height="57.8" fill="#f9e8f6"/><rect x="704.0" y="257.3" width="107.6" height="57.8" fill="#f9e8f6"/><rect x="-73.5" y="314.5" width="107.6" height="57.8" fill="#e9c8f8"/><rect x="33.5" y="314.5" width="67.6" height="57.8" fill="#d6b8f8"/><rect x="100.6" y="314.5" width="67.6" height="57.8" fill="#e0c0f8"/><rect x="167.6" y="314.5" width="67.6" height="57.8" fill="#f2d0f8"/><rect x="234.7" y="314.5" width="67.6" height="57.8" fill="#f4d8f7"/><rect x="301.7" y="314.5" width="67.6" height="57.8" fill="#f6dcf7"/><rect x="368.8" y="314.5" width="67.6" height="57.8" fill="#f7e0f6"/><rect x="435.8" y="314.5" width="67.6" height="57.8" fill="#f8e4f6"/><rect x="502.8" y="314.5" width="67.6" height="57.8" fill="#faebf7"/><rect x="569.9" y="314.5" width="67.6" height="57.8" fill="#faebf7"/><rect x="636.9" y="314.5" width="67.6" height="57.8" fill="#f9e8f6"/><rect x="704.0" y="314.5" width="107.6" height="57.8" fill="#faebf7"/><rect x="-73.5" y="371.7" width="107.6" height="57.8" fill="#f3d4f8"/><rect x="33.5" y="371.7" width="67.6" height="57.8" fill="#e5c4f8"/><rect x="100.6" y="371.7" width="67.6" height="57.8" fill="#eeccf8"/><rect x="167.6" y="371.7" width="67.6" height="57.8" fill="#f4d8f7"/><rect x="234.7" y="371.7" width="67.6" height="57.8" fill="#f7e0f6"/><rect x="301.7" y="371.7" width="67.6" height="57.8" fill="#f8e4f6"/><rect x="368.8" y="371.7" width="67.6" height="57.8" fill="#f8e4f6"/><rect x="435.8" y="371.7" width="67.6" height="57.8" fill="#f9e8f6"/><rect x="502.8" y="371.7" width="67.6" height="57.8" fill="#faebf7"/><rect x="569.9" y="371.7" width="67.6" height="57.8" fill="#faebf7"/><rect x="636.9" y="371.7" width="67.6" height="57.8" fill="#faebf7"/><rect x="704.0" y="371.7" width="107.6" height="57.8" fill="#faebf7"/><rect x="-73.5" y="428.9" width="107.6" height="57.8" fill="#f8e4f6"/><rect x="33.5" y="428.9" width="67.6" height="57.8" fill="#f3d4f8"/><rect x="100.6" y="428.9" width="67.6" height="57.8" fill="#f3d4f8"/><rect x="167.6" y="428.9" width="67.6" height="57.8" fill="#f6dcf7"/><rect x="234.7" y="428.9" width="67.6" height="57.8" fill="#f8e4f6"/><rect x="301.7" y="428.9" width="67.6" height="57.8" fill="#f9e8f6"/><rect x="368.8" y="428.9" width="67.6" height="57.8" fill="#f9e8f6"/><rect x="435.8" y="428.9" width="67.6" height="57.8" fill="#faebf7"/><rect x="502.8" y="428.9" width="67.6" height="57.8" fill="#faebf7"/><rect x="569.9" y="428.9" width="67.6" height="57.8" fill="#fbeff7"/><rect x="636.9" y="428.9" width="67.6" height="57.8" fill="#fbeff7"/><rect x="704.0" y="428.9" width="107.6" height="57.8" fill="#fbeff7"/><rect x="-73.5" y="486.0" width="107.6" height="57.8" fill="#fbeff7"/><rect x="33.5" y="486.0" width="67.6" height="57.8" fill="#f9e8f6"/><rect x="100.6" y="486.0" width="67.6" height="57.8" fill="#f6dcf7"/><rect x="167.6" y="486.0" width="67.6" height="57.8" fill="#f8e4f6"/><rect x="234.7" y="486.0" width="67.6" height="57.8" fill="#f9e8f6"/><rect x="301.7" y="486.0" width="67.6" height="57.8" fill="#f9e8f6"/><rect x="368.8" y="486.0" width="67.6" height="57.8" fill="#f9e8f6"/><rect x="435.8" y="486.0" width="67.6" height="57.8" fill="#f8e4f6"/><rect x="502.8" y="486.0" width="67.6" height="57.8" fill="#faebf7"/><rect x="569.9" y="486.0" width="67.6" height="57.8" fill="#fbeff7"/><rect x="636.9" y="486.0" width="67.6" height="57.8" fill="#fbeff7"/><rect x="704.0" y="486.0" width="107.6" height="57.8" fill="#fbeff7"/><rect x="-73.5" y="543.2" width="107.6" height="57.8" fill="#fdf6f8"/><rect x="33.5" y="543.2" width="67.6" height="57.8" fill="#fcf2f8"/><rect x="100.6" y="543.2" width="67.6" height="57.8" fill="#faebf7"/><rect x="167.6" y="543.2" width="67.6" height="57.8" fill="#f4d8f7"/><rect x="234.7" y="543.2" width="67.6" height="57.8" fill="#f3d4f8"/><rect x="301.7" y="543.2" width="67.6" height="57.8" fill="#f8e4f6"/><rect x="368.8" y="543.2" width="67.6" height="57.8" fill="#f9e8f6"/><rect x="435.8" y="543.2" width="67.6" height="57.8" fill="#faebf7"/><rect x="502.8" y="543.2" width="67.6" height="57.8" fill="#fbeff7"/><rect x="569.9" y="543.2" width="67.6" height="57.8" fill="#fdf6f8"/><rect x="636.9" y="543.2" width="67.6" height="57.8" fill="#faebf7"/><rect x="704.0" y="543.2" width="107.6" height="57.8" fill="#f4d8f7"/><rect x="-73.5" y="600.4" width="107.6" height="97.8" fill="#fdf6f8"/><rect x="33.5" y="600.4" width="67.6" height="97.8" fill="#fdf6f8"/><rect x="100.6" y="600.4" width="67.6" height="97.8" fill="#fbeff7"/><rect x="167.6" y="600.4" width="67.6" height="97.8" fill="#f6dcf7"/><rect x="234.7" y="600.4" width="67.6" height="97.8" fill="#f4d8f7"/><rect x="301.7" y="600.4" width="67.6" height="97.8" fill="#f8e4f6"/><rect x="368.8" y="600.4" width="67.6" height="97.8" fill="#faebf7"/><rect x="435.8" y="600.4" width="67.6" height="97.8" fill="#fbeff7"/><rect x="502.8" y="600.4" width="67.6" height="97.8" fill="#fdf6f8"/><rect x="569.9" y="600.4" width="67.6" height="97.8" fill="#fdf6f8"/><rect x="636.9" y="600.4" width="67.6" height="97.8" fill="#fcf2f8"/><rect x="704.0" y="600.4" width="107.6" height="97.8" fill="#f9e8f6"/></g><g filter="url(#fb2)"><ellipse cx="26.5" cy="179.8" rx="45.4" ry="17.0" fill="#fdf7f9" transform="rotate(32 26.5 179.8)"/><path d="M0.0 265.0 75.7 272.5 170.3 314.2 212.0 359.6 170.3 378.5 94.6 340.7 0.0 325.5Z" fill="#c6aef8" fill-opacity="0.60"/><path d="M-18.9 492.1 75.7 522.3 189.3 590.5 227.1 643.5 -18.9 643.5Z" fill="#fcf2f8" fill-opacity="0.70"/><path d="M212.0 582.9 283.9 590.5 302.8 605.6 227.1 605.6Z" fill="#c0aaf8" fill-opacity="0.80"/><path d="M560.2 546.9 643.5 560.2 741.9 582.9 741.9 599.9 643.5 579.1 556.4 562.1Z" fill="#fefafb"/><path d="M511.0 503.4 567.8 522.3 590.5 545.0 529.9 537.5Z" fill="#fef9fa"/></g><g filter="url(#fb3)"><path d="M131.6 122.2 141.0 70.5 164.6 47.0 235.1 35.3 305.6 14.1 376.1 -4.7 528.9 -4.7 528.9 70.5 481.9 129.3 434.9 164.6 399.6 188.1 364.4 223.3 340.9 258.6 305.6 270.3 258.6 277.4 211.6 270.3 164.6 258.6 129.3 246.8 105.8 223.3 117.5 176.3 141.0 152.8Z" fill="#8cc2f1"/><path d="M235.1 37.6 305.6 18.8 399.6 7.1 458.4 14.1 434.9 47.0 352.6 51.7 282.1 58.8 235.1 61.1Z" fill="#78f8f8"/><path d="M387.9 58.8 423.1 35.3 470.1 35.3 481.9 82.3 458.4 117.5 423.1 131.6 387.9 117.5Z" fill="#78f4f8"/><path d="M206.9 131.6 235.1 122.2 282.1 131.6 317.3 145.7 305.6 169.3 258.6 164.6 223.3 178.7Z" fill="#78f4f8"/><path d="M293.8 188.1 340.9 192.8 357.3 223.3 329.1 249.2 293.8 235.1Z" fill="#78f4f8"/><path d="M141.0 82.3 176.3 70.5 211.6 82.3 206.9 112.8 164.6 122.2Z" fill="#78f4f8"/><path d="M150.4 206.9 199.8 202.2 216.3 223.3 192.8 244.5 159.8 235.1Z" fill="#78f0f8"/><path d="M223.3 199.8 258.6 206.9 270.3 235.1 235.1 253.9 211.6 230.4Z" fill="#78f0f8"/><ellipse cx="192.8" cy="155.1" rx="21.2" ry="12.9" fill="#a0a8f6"/><ellipse cx="282.1" cy="178.7" rx="30.6" ry="14.1" fill="#a0a8f6"/><ellipse cx="376.1" cy="206.9" rx="25.9" ry="18.8" fill="#a0a8f6"/><ellipse cx="117.5" cy="202.2" rx="14.1" ry="25.9" fill="#a0a8f6"/><path d="M175.9 119.3 201.3 101.3 226.6 68.7 262.7 50.6 298.9 39.8 335.1 28.9 371.2 21.7 389.3 10.8 416.5 7.2 425.5 27.1 407.4 45.2 398.4 72.3 407.4 99.5 398.4 126.6 371.2 144.7 362.2 171.8 344.1 171.8 335.1 153.7 317.0 148.3 298.9 141.0 262.7 133.8 226.6 126.6 199.5 123.0Z" fill="#68f070"/><path d="M289.9 137.4 326.0 144.7 335.1 162.7 308.0 171.8 280.8 159.1Z" fill="#68f07d" fill-opacity="0.80"/><path d="M177.8 119.3 208.5 101.3 226.6 75.9 253.7 59.7 280.8 54.2 317.0 47.0 344.1 41.6 367.6 32.5 385.7 32.5 382.1 50.6 371.2 72.3 371.2 90.4 353.2 108.5 326.0 117.5 298.9 123.0 262.7 124.8 235.6 126.6 208.5 123.0Z" fill="#ddf731"/><path d="M181.4 119.3 208.5 103.1 230.2 77.8 262.7 63.3 298.9 54.2 335.1 48.8 360.4 43.4 367.6 54.2 364.0 75.9 353.2 94.0 335.1 112.1 308.0 119.3 271.8 119.3 244.7 119.3 226.6 117.5 208.5 115.7Z" fill="#ef9d27"/><path d="M201.3 112.1 226.6 101.3 223.0 83.2 235.6 75.9 253.7 72.3 280.8 59.7 317.0 52.4 353.2 47.0 362.2 54.2 356.8 75.9 349.5 94.0 335.1 108.5 308.0 115.7 280.8 119.3 253.7 115.7 226.6 115.7 208.5 117.5Z" fill="#d82b25"/><path d="M226.6 86.8 244.7 85.0 248.3 101.3 226.6 108.5 219.3 97.6Z" fill="#c8f434" fill-opacity="0.80"/><path d="M237.4 112.1 253.7 101.3 250.1 81.4 262.7 72.3 280.8 65.1 308.0 61.5 326.0 68.7 335.1 83.2 317.0 94.0 308.0 104.9 289.9 112.1 271.8 112.1 253.7 115.7Z" fill="#860d0d"/><path d="M119.9 231.5 118.1 180.8 127.1 159.1 150.6 151.9 168.7 162.7 168.7 189.9 163.3 217.0 154.2 231.5 136.2 235.1Z" fill="#78f4f8"/><path d="M123.5 226.0 123.5 180.8 132.5 162.7 154.2 157.3 163.3 171.8 159.7 198.9 154.2 217.0 139.8 227.8Z" fill="#6df068"/><path d="M127.1 208.0 128.9 180.8 139.8 168.2 154.2 162.7 157.9 180.8 154.2 202.5 145.2 209.8Z" fill="#c8f434"/><ellipse cx="145.2" cy="195.3" rx="7.2" ry="4.5" fill="#ef9d27"/><ellipse cx="148.8" cy="179.0" rx="3.6" ry="3.6" fill="#ef9d27"/><ellipse cx="145.2" cy="196.2" rx="2.7" ry="2.2" fill="#dc2d27"/><ellipse cx="154.2" cy="61.5" rx="10.8" ry="9.0" fill="#73f6e8"/><ellipse cx="154.2" cy="61.5" rx="6.3" ry="5.1" fill="#72f060"/><ellipse cx="90.8" cy="71.9" rx="6.8" ry="3.8" fill="#78f4f8"/><ellipse cx="87.1" cy="208.2" rx="6.8" ry="3.8" fill="#68f0c0"/><ellipse cx="109.8" cy="242.2" rx="6.8" ry="4.5" fill="#73f6e8"/><ellipse cx="185.5" cy="242.2" rx="6.1" ry="4.5" fill="#68f0c0"/><ellipse cx="242.2" cy="252.8" rx="7.6" ry="5.3" fill="#68f0c0"/><ellipse cx="242.2" cy="252.8" rx="3.0" ry="2.3" fill="#87f04a"/><ellipse cx="590.5" cy="121.1" rx="11.4" ry="6.1" fill="#78ecf8"/><ellipse cx="466.3" cy="174.9" rx="5.3" ry="3.0" fill="#78ecf8"/><ellipse cx="246.0" cy="603.7" rx="17.0" ry="3.8" fill="#a0a8f6"/><ellipse cx="669.9" cy="560.2" rx="6.1" ry="3.0" fill="#73f6e8"/></g></g>
<g clip-path="url(#pc)"><use href="#coast"/></g>
<rect x="0" y="0" width="737.5" height="629.0" fill="none" stroke="#707070" stroke-width="1.6"/>
<path d="M67.0 629.0v-7M67.0 0v7M201.1 629.0v-7M201.1 0v7M335.2 629.0v-7M335.2 0v7M469.3 629.0v-7M469.3 0v7M603.4 629.0v-7M603.4 0v7M737.5 629.0v-7M737.5 0v7M0 629.0h7M737.5 629.0h-7M0 514.6h7M737.5 514.6h-7M0 400.3h7M737.5 400.3h-7M0 285.9h7M737.5 285.9h-7M0 171.5h7M737.5 171.5h-7M0 57.2h7M737.5 57.2h-7" stroke="#505050" stroke-width="1.6" fill="none"/>
<text x="67.0" y="689.5" text-anchor="middle" font-size="48" fill="#262626">100</text>
<text x="201.1" y="689.5" text-anchor="middle" font-size="48" fill="#262626">110</text>
<text x="335.2" y="689.5" text-anchor="middle" font-size="48" fill="#262626">120</text>
<text x="469.3" y="689.5" text-anchor="middle" font-size="48" fill="#262626">130</text>
<text x="603.4" y="689.5" text-anchor="middle" font-size="48" fill="#262626">140</text>
<text x="737.5" y="689.5" text-anchor="middle" font-size="48" fill="#262626">150</text>
<text x="-16" y="646.5" text-anchor="end" font-size="48" fill="#262626">10</text>
<text transform="translate(-91.5,646.5) scale(0.70,1)" text-anchor="middle" font-size="48" fill="#262626">−</text>
<text x="-16" y="532.1" text-anchor="end" font-size="48" fill="#262626">0</text>
<text x="-16" y="417.8" text-anchor="end" font-size="48" fill="#262626">10</text>
<text x="-16" y="303.4" text-anchor="end" font-size="48" fill="#262626">20</text>
<text x="-16" y="189.0" text-anchor="end" font-size="48" fill="#262626">30</text>
<text x="-16" y="74.7" text-anchor="end" font-size="48" fill="#262626">40</text>
<text x="368.5" y="754.0" text-anchor="middle" font-size="52" fill="#262626">Longitude</text>
<text transform="translate(-122.2,313.5) rotate(-90) scale(0.966,1)" text-anchor="middle" font-size="52" fill="#262626">Latitude</text>
<rect x="808.6" y="0" width="53.2" height="629.0" fill="url(#cb)" stroke="#707070" stroke-width="1.6"/>
<path d="M861.8 576.6h-7M861.8 524.2h-7M861.8 471.8h-7M861.8 419.3h-7M861.8 366.9h-7M861.8 314.5h-7M861.8 262.1h-7M861.8 209.7h-7M861.8 157.2h-7M861.8 104.8h-7M861.8 52.4h-7" stroke="#404040" stroke-width="1.6"/>
<text x="875.8" y="644.0" font-size="41" fill="#262626">0</text>
<text x="875.8" y="591.6" font-size="41" fill="#262626">0.1</text>
<text x="875.8" y="539.2" font-size="41" fill="#262626">0.2</text>
<text x="875.8" y="486.8" font-size="41" fill="#262626">0.3</text>
<text x="875.8" y="434.3" font-size="41" fill="#262626">0.4</text>
<text x="875.8" y="381.9" font-size="41" fill="#262626">0.5</text>
<text x="875.8" y="329.5" font-size="41" fill="#262626">0.6</text>
<text x="875.8" y="277.1" font-size="41" fill="#262626">0.7</text>
<text x="875.8" y="224.7" font-size="41" fill="#262626">0.8</text>
<text x="875.8" y="172.2" font-size="41" fill="#262626">0.9</text>
<text x="875.8" y="119.8" font-size="41" fill="#262626">1</text>
<text x="875.8" y="67.4" font-size="41" fill="#262626">1.1</text>
<text x="875.8" y="15.0" font-size="41" fill="#262626">1.2</text>
<text transform="translate(834.7,-23.5) scale(0.95,1)" text-anchor="middle" font-size="41.5" font-weight="bold" fill="#000">DU</text>
</g>
<text transform="translate(537.4,886.6) scale(0.9066,1)" text-anchor="middle" font-size="53" font-weight="bold" fill="#000">Autumn(SON) SO2</text>
<g transform="translate(1288.5,904.0)">
<g clip-path="url(#pc)"><g filter="url(#fb1)"><rect x="-73.5" y="-68.6" width="107.6" height="97.8" fill="#dcbcf8"/><rect x="33.5" y="-68.6" width="67.6" height="97.8" fill="#d1b5f8"/><rect x="100.6" y="-68.6" width="67.6" height="97.8" fill="#c6aef8"/><rect x="167.6" y="-68.6" width="67.6" height="97.8" fill="#e9c8f8"/><rect x="234.7" y="-68.6" width="67.6" height="97.8" fill="#e5c4f8"/><rect x="301.7" y="-68.6" width="67.6" height="97.8" fill="#b0a3f8"/><rect x="368.8" y="-68.6" width="67.6" height="97.8" fill="#a8a0f8"/><rect x="435.8" y="-68.6" width="67.6" height="97.8" fill="#b0a3f8"/><rect x="502.8" y="-68.6" width="67.6" height="97.8" fill="#b0a3f8"/><rect x="569.9" y="-68.6" width="67.6" height="97.8" fill="#c0aaf8"/><rect x="636.9" y="-68.6" width="67.6" height="97.8" fill="#d1b5f8"/><rect x="704.0" y="-68.6" width="107.6" height="97.8" fill="#dcbcf8"/><rect x="-73.5" y="28.6" width="107.6" height="57.8" fill="#e5c4f8"/><rect x="33.5" y="28.6" width="67.6" height="57.8" fill="#cbb1f8"/><rect x="100.6" y="28.6" width="67.6" height="57.8" fill="#a8a0f8"/><rect x="167.6" y="28.6" width="67.6" height="57.8" fill="#8cc2f1"/><rect x="234.7" y="28.6" width="67.6" height="57.8" fill="#78ecf8"/><rect x="301.7" y="28.6" width="67.6" height="57.8" fill="#78ecf8"/><rect x="368.8" y="28.6" width="67.6" height="57.8" fill="#78ecf8"/><rect x="435.8" y="28.6" width="67.6" height="57.8" fill="#80daf4"/><rect x="502.8" y="28.6" width="67.6" height="57.8" fill="#a0a8f6"/><rect x="569.9" y="28.6" width="67.6" height="57.8" fill="#b0a3f8"/><rect x="636.9" y="28.6" width="67.6" height="57.8" fill="#c6aef8"/><rect x="704.0" y="28.6" width="107.6" height="57.8" fill="#dcbcf8"/><rect x="-73.5" y="85.8" width="107.6" height="57.8" fill="#f2d0f8"/><rect x="33.5" y="85.8" width="67.6" height="57.8" fill="#cbb1f8"/><rect x="100.6" y="85.8" width="67.6" height="57.8" fill="#98b0f4"/><rect x="167.6" y="85.8" width="67.6" height="57.8" fill="#80daf4"/><rect x="234.7" y="85.8" width="67.6" height="57.8" fill="#78ecf8"/><rect x="301.7" y="85.8" width="67.6" height="57.8" fill="#78ecf8"/><rect x="368.8" y="85.8" width="67.6" height="57.8" fill="#78ecf8"/><rect x="435.8" y="85.8" width="67.6" height="57.8" fill="#8cc2f1"/><rect x="502.8" y="85.8" width="67.6" height="57.8" fill="#a0a8f6"/><rect x="569.9" y="85.8" width="67.6" height="57.8" fill="#b0a3f8"/><rect x="636.9" y="85.8" width="67.6" height="57.8" fill="#dcbcf8"/><rect x="704.0" y="85.8" width="107.6" height="57.8" fill="#e5c4f8"/><rect x="-73.5" y="143.0" width="107.6" height="57.8" fill="#fdf6f8"/><rect x="33.5" y="143.0" width="67.6" height="57.8" fill="#e9c8f8"/><rect x="100.6" y="143.0" width="67.6" height="57.8" fill="#a8a0f8"/><rect x="167.6" y="143.0" width="67.6" height="57.8" fill="#88c8f0"/><rect x="234.7" y="143.0" width="67.6" height="57.8" fill="#80daf4"/><rect x="301.7" y="143.0" width="67.6" height="57.8" fill="#84d1f2"/><rect x="368.8" y="143.0" width="67.6" height="57.8" fill="#90bcf2"/><rect x="435.8" y="143.0" width="67.6" height="57.8" fill="#a0a8f6"/><rect x="502.8" y="143.0" width="67.6" height="57.8" fill="#e5c4f8"/><rect x="569.9" y="143.0" width="67.6" height="57.8" fill="#f4d8f7"/><rect x="636.9" y="143.0" width="67.6" height="57.8" fill="#f7e0f6"/><rect x="704.0" y="143.0" width="107.6" height="57.8" fill="#f7e0f6"/><rect x="-73.5" y="200.1" width="107.6" height="57.8" fill="#e0c0f8"/><rect x="33.5" y="200.1" width="67.6" height="57.8" fill="#c0aaf8"/><rect x="100.6" y="200.1" width="67.6" height="57.8" fill="#a8a0f8"/><rect x="167.6" y="200.1" width="67.6" height="57.8" fill="#a0a8f6"/><rect x="234.7" y="200.1" width="67.6" height="57.8" fill="#a0a8f6"/><rect x="301.7" y="200.1" width="67.6" height="57.8" fill="#a8a0f8"/><rect x="368.8" y="200.1" width="67.6" height="57.8" fill="#d1b5f8"/><rect x="435.8" y="200.1" width="67.6" height="57.8" fill="#f4d8f7"/><rect x="502.8" y="200.1" width="67.6" height="57.8" fill="#f8e4f6"/><rect x="569.9" y="200.1" width="67.6" height="57.8" fill="#f9e8f6"/><rect x="636.9" y="200.1" width="67.6" height="57.8" fill="#f9e8f6"/><rect x="704.0" y="200.1" width="107.6" height="57.8" fill="#f9e8f6"/><rect x="-73.5" y="257.3" width="107.6" height="57.8" fill="#d6b8f8"/><rect x="33.5" y="257.3" width="67.6" height="57.8" fill="#b8a7f8"/><rect x="100.6" y="257.3" width="67.6" height="57.8" fill="#c0aaf8"/><rect x="167.6" y="257.3" width="67.6" height="57.8" fill="#dcbcf8"/><rect x="234.7" y="257.3" width="67.6" height="57.8" fill="#f2d0f8"/><rect x="301.7" y="257.3" width="67.6" height="57.8" fill="#f6dcf7"/><rect x="368.8" y="257.3" width="67.6" height="57.8" fill="#f7e0f6"/><rect x="435.8" y="257.3" width="67.6" height="57.8" fill="#f9e8f6"/><rect x="502.8" y="257.3" width="67.6" height="57.8" fill="#faebf7"/><rect x="569.9" y="257.3" width="67.6" height="57.8" fill="#faebf7"/><rect x="636.9" y="257.3" width="67.6" height="57.8" fill="#faebf7"/><rect x="704.0" y="257.3" width="107.6" height="57.8" fill="#faebf7"/><rect x="-73.5" y="314.5" width="107.6" height="57.8" fill="#e0c0f8"/><rect x="33.5" y="314.5" width="67.6" height="57.8" fill="#cbb1f8"/><rect x="100.6" y="314.5" width="67.6" height="57.8" fill="#e0c0f8"/><rect x="167.6" y="314.5" width="67.6" height="57.8" fill="#f4d8f7"/><rect x="234.7" y="314.5" width="67.6" height="57.8" fill="#f7e0f6"/><rect x="301.7" y="314.5" width="67.6" height="57.8" fill="#f8e4f6"/><rect x="368.8" y="314.5" width="67.6" height="57.8" fill="#f9e8f6"/><rect x="435.8" y="314.5" width="67.6" height="57.8" fill="#faebf7"/><rect x="502.8" y="314.5" width="67.6" height="57.8" fill="#faebf7"/><rect x="569.9" y="314.5" width="67.6" height="57.8" fill="#faebf7"/><rect x="636.9" y="314.5" width="67.6" height="57.8" fill="#f8e4f6"/><rect x="704.0" y="314.5" width="107.6" height="57.8" fill="#faebf7"/><rect x="-73.5" y="371.7" width="107.6" height="57.8" fill="#f2d0f8"/><rect x="33.5" y="371.7" width="67.6" height="57.8" fill="#e0c0f8"/><rect x="100.6" y="371.7" width="67.6" height="57.8" fill="#f2d0f8"/><rect x="167.6" y="371.7" width="67.6" height="57.8" fill="#f7e0f6"/><rect x="234.7" y="371.7" width="67.6" height="57.8" fill="#f9e8f6"/><rect x="301.7" y="371.7" width="67.6" height="57.8" fill="#faebf7"/><rect x="368.8" y="371.7" width="67.6" height="57.8" fill="#faebf7"/><rect x="435.8" y="371.7" width="67.6" height="57.8" fill="#faebf7"/><rect x="502.8" y="371.7" width="67.6" height="57.8" fill="#fbeff7"/><rect x="569.9" y="371.7" width="67.6" height="57.8" fill="#fbeff7"/><rect x="636.9" y="371.7" width="67.6" height="57.8" fill="#fbeff7"/><rect x="704.0" y="371.7" width="107.6" height="57.8" fill="#fbeff7"/><rect x="-73.5" y="428.9" width="107.6" height="57.8" fill="#f6dcf7"/><rect x="33.5" y="428.9" width="67.6" height="57.8" fill="#f3d4f8"/><rect x="100.6" y="428.9" width="67.6" height="57.8" fill="#f4d8f7"/><rect x="167.6" y="428.9" width="67.6" height="57.8" fill="#f8e4f6"/><rect x="234.7" y="428.9" width="67.6" height="57.8" fill="#faebf7"/><rect x="301.7" y="428.9" width="67.6" height="57.8" fill="#faebf7"/><rect x="368.8" y="428.9" width="67.6" height="57.8" fill="#faebf7"/><rect x="435.8" y="428.9" width="67.6" height="57.8" fill="#fbeff7"/><rect x="502.8" y="428.9" width="67.6" height="57.8" fill="#fbeff7"/><rect x="569.9" y="428.9" width="67.6" height="57.8" fill="#fbeff7"/><rect x="636.9" y="428.9" width="67.6" height="57.8" fill="#fbeff7"/><rect x="704.0" y="428.9" width="107.6" height="57.8" fill="#fbeff7"/><rect x="-73.5" y="486.0" width="107.6" height="57.8" fill="#f9e8f6"/><rect x="33.5" y="486.0" width="67.6" height="57.8" fill="#f7e0f6"/><rect x="100.6" y="486.0" width="67.6" height="57.8" fill="#f6dcf7"/><rect x="167.6" y="486.0" width="67.6" height="57.8" fill="#f9e8f6"/><rect x="234.7" y="486.0" width="67.6" height="57.8" fill="#faebf7"/><rect x="301.7" y="486.0" width="67.6" height="57.8" fill="#faebf7"/><rect x="368.8" y="486.0" width="67.6" height="57.8" fill="#faebf7"/><rect x="435.8" y="486.0" width="67.6" height="57.8" fill="#f9e8f6"/><rect x="502.8" y="486.0" width="67.6" height="57.8" fill="#fbeff7"/><rect x="569.9" y="486.0" width="67.6" height="57.8" fill="#fbeff7"/><rect x="636.9" y="486.0" width="67.6" height="57.8" fill="#fbeff7"/><rect x="704.0" y="486.0" width="107.6" height="57.8" fill="#fbeff7"/><rect x="-73.5" y="543.2" width="107.6" height="57.8" fill="#fbeff7"/><rect x="33.5" y="543.2" width="67.6" height="57.8" fill="#f9e8f6"/><rect x="100.6" y="543.2" width="67.6" height="57.8" fill="#f7e0f6"/><rect x="167.6" y="543.2" width="67.6" height="57.8" fill="#f2d0f8"/><rect x="234.7" y="543.2" width="67.6" height="57.8" fill="#f3d4f8"/><rect x="301.7" y="543.2" width="67.6" height="57.8" fill="#f8e4f6"/><rect x="368.8" y="543.2" width="67.6" height="57.8" fill="#faebf7"/><rect x="435.8" y="543.2" width="67.6" height="57.8" fill="#faebf7"/><rect x="502.8" y="543.2" width="67.6" height="57.8" fill="#fbeff7"/><rect x="569.9" y="543.2" width="67.6" height="57.8" fill="#fdf7f9"/><rect x="636.9" y="543.2" width="67.6" height="57.8" fill="#faebf7"/><rect x="704.0" y="543.2" width="107.6" height="57.8" fill="#f4d8f7"/><rect x="-73.5" y="600.4" width="107.6" height="97.8" fill="#fdf6f8"/><rect x="33.5" y="600.4" width="67.6" height="97.8" fill="#fbeff7"/><rect x="100.6" y="600.4" width="67.6" height="97.8" fill="#f9e8f6"/><rect x="167.6" y="600.4" width="67.6" height="97.8" fill="#f4d8f7"/><rect x="234.7" y="600.4" width="67.6" height="97.8" fill="#f3d4f8"/><rect x="301.7" y="600.4" width="67.6" height="97.8" fill="#f7e0f6"/><rect x="368.8" y="600.4" width="67.6" height="97.8" fill="#faebf7"/><rect x="435.8" y="600.4" width="67.6" height="97.8" fill="#fbeff7"/><rect x="502.8" y="600.4" width="67.6" height="97.8" fill="#fdf6f8"/><rect x="569.9" y="600.4" width="67.6" height="97.8" fill="#fdf7f9"/><rect x="636.9" y="600.4" width="67.6" height="97.8" fill="#fbeff7"/><rect x="704.0" y="600.4" width="107.6" height="97.8" fill="#f9e8f6"/></g><g filter="url(#fb2)"><ellipse cx="26.5" cy="179.8" rx="45.4" ry="17.0" fill="#fdf7f9" transform="rotate(32 26.5 179.8)"/><path d="M18.9 246.0 113.6 265.0 181.7 295.2 212.0 325.5 170.3 340.7 113.6 321.7 56.8 299.0Z" fill="#c0aaf8" fill-opacity="0.60"/><path d="M0.0 162.8 30.3 166.5 37.9 189.3 0.0 189.3Z" fill="#fdf7f9"/><path d="M212.0 590.5 283.9 594.2 287.7 609.4 219.5 605.6Z" fill="#a8a0f8"/><path d="M560.2 546.9 643.5 560.2 741.9 582.9 741.9 599.9 643.5 579.1 556.4 562.1Z" fill="#fefafb"/><path d="M511.0 503.4 567.8 522.3 590.5 545.0 529.9 537.5Z" fill="#fef9fa"/></g><g filter="url(#fb3)"><path d="M105.3 141.0 112.3 94.0 140.5 58.8 187.6 40.0 258.1 35.3 328.6 28.2 399.1 30.6 434.4 58.8 446.1 105.8 434.4 152.8 399.1 176.3 375.6 199.8 352.1 223.3 316.8 246.8 269.8 258.6 234.6 263.3 187.6 270.3 140.5 253.9 105.3 223.3 98.2 188.1Z" fill="#8cc2f1"/><path d="M164.1 42.3 234.6 37.6 328.6 30.6 399.1 32.9 410.9 51.7 352.1 56.4 281.6 54.1 211.1 61.1 164.1 65.8Z" fill="#78f4f8"/><path d="M110.0 98.7 140.5 70.5 175.8 70.5 199.3 94.0 187.6 129.3 152.3 141.0 117.0 131.6Z" fill="#78f4f8"/><path d="M187.6 141.0 222.8 164.6 258.1 183.4 305.1 176.3 340.4 188.1 340.4 211.6 305.1 223.3 269.8 230.4 234.6 223.3 211.1 188.1Z" fill="#78f4f8"/><path d="M363.9 58.8 410.9 47.0 434.4 70.5 434.4 129.3 399.1 152.8 363.9 141.0Z" fill="#78f4f8"/><path d="M112.3 152.8 152.3 145.7 175.8 188.1 164.1 235.1 128.8 235.1 105.3 199.8Z" fill="#78f0f8"/><ellipse cx="194.6" cy="164.6" rx="25.9" ry="18.8" fill="#a4a4f7"/><ellipse cx="276.9" cy="202.2" rx="28.2" ry="10.6" fill="#a0a8f6"/><ellipse cx="112.3" cy="246.8" rx="18.8" ry="14.1" fill="#a0a8f6"/><path d="M168.2 119.3 199.0 101.3 217.0 75.9 235.1 59.7 262.2 52.4 298.4 47.0 334.6 41.6 370.7 36.2 388.8 32.5 397.9 50.6 406.9 72.3 406.9 99.5 397.9 126.6 379.8 144.7 370.7 162.7 352.7 171.8 325.5 171.8 298.4 171.8 271.3 166.4 244.2 159.1 226.1 144.7 217.0 126.6 189.9 124.8Z" fill="#68f070"/><path d="M171.8 119.3 200.8 104.9 217.0 86.8 229.7 72.3 244.2 57.9 280.3 54.2 316.5 48.8 343.6 45.2 370.7 43.4 385.2 45.2 379.8 63.3 370.7 81.4 361.7 99.5 352.7 117.5 334.6 135.6 316.5 144.7 298.4 148.3 271.3 144.7 253.2 137.4 235.1 126.6 208.0 123.0Z" fill="#ddf731"/><path d="M175.4 119.3 208.0 104.9 222.5 90.4 236.9 75.9 262.2 65.1 298.4 56.1 334.6 52.4 356.3 52.4 361.7 68.7 349.0 86.8 343.6 101.3 334.6 117.5 307.5 132.0 280.3 137.4 253.2 130.2 235.1 119.3 208.0 119.3Z" fill="#ee9426"/><path d="M175.4 119.3 211.6 103.1 226.1 85.0 244.2 77.8 262.2 65.1 289.4 56.1 325.5 52.4 349.0 54.2 343.6 75.9 334.6 90.4 331.0 108.5 316.5 123.0 289.4 133.8 271.3 132.0 249.6 124.8 235.1 117.5 211.6 117.5Z" fill="#d02523"/><path d="M226.1 86.8 247.8 81.4 247.8 101.3 229.7 108.5Z" fill="#ddf731" fill-opacity="0.80"/><path d="M226.1 113.9 244.2 101.3 247.8 81.4 255.0 72.3 271.3 65.1 298.4 59.7 325.5 61.5 334.6 75.9 325.5 90.4 316.5 101.3 307.5 112.1 280.3 119.3 262.2 119.3 244.2 117.5Z" fill="#6a0303"/><path d="M114.0 226.0 110.3 180.8 117.6 159.1 144.7 153.7 171.8 159.1 175.4 180.8 168.2 208.0 153.7 235.1 126.6 235.1Z" fill="#78f4f8"/><path d="M126.6 226.0 124.8 180.8 135.7 162.7 159.2 159.1 164.6 171.8 157.4 189.9 153.7 208.0 144.7 222.4Z" fill="#6df068"/><ellipse cx="141.1" cy="180.8" rx="6.3" ry="5.4" fill="#c8f434"/><ellipse cx="135.7" cy="191.7" rx="4.0" ry="3.3" fill="#ddf731"/><ellipse cx="153.7" cy="68.7" rx="10.8" ry="8.1" fill="#73f6e8"/><ellipse cx="153.7" cy="68.7" rx="5.4" ry="4.0" fill="#87f04a"/><ellipse cx="121.2" cy="92.2" rx="9.9" ry="4.5" fill="#73f6e8"/><ellipse cx="298.4" cy="18.1" rx="8.1" ry="6.3" fill="#f6dcf7"/><ellipse cx="417.8" cy="18.1" rx="7.2" ry="4.5" fill="#f6dcf7"/><ellipse cx="90.8" cy="71.9" rx="6.8" ry="3.8" fill="#78f4f8"/><ellipse cx="88.9" cy="208.9" rx="6.1" ry="3.8" fill="#73f6e8"/><ellipse cx="242.2" cy="252.8" rx="7.6" ry="5.3" fill="#68f0c0"/><ellipse cx="662.4" cy="327.8" rx="22.7" ry="8.3" fill="#a0a8f6"/><ellipse cx="668.1" cy="327.8" rx="9.5" ry="3.8" fill="#73f6e8"/><ellipse cx="246.0" cy="603.7" rx="17.0" ry="3.8" fill="#88c8f0"/><ellipse cx="669.9" cy="560.2" rx="6.1" ry="3.0" fill="#78f4f8"/><ellipse cx="45.4" cy="478.8" rx="6.8" ry="3.0" fill="#8cc2f1"/></g></g>
<g clip-path="url(#pc)"><use href="#coast"/></g>
<rect x="0" y="0" width="737.5" height="629.0" fill="none" stroke="#707070" stroke-width="1.6"/>
<path d="M67.0 629.0v-7M67.0 0v7M201.1 629.0v-7M201.1 0v7M335.2 629.0v-7M335.2 0v7M469.3 629.0v-7M469.3 0v7M603.4 629.0v-7M603.4 0v7M737.5 629.0v-7M737.5 0v7M0 629.0h7M737.5 629.0h-7M0 514.6h7M737.5 514.6h-7M0 400.3h7M737.5 400.3h-7M0 285.9h7M737.5 285.9h-7M0 171.5h7M737.5 171.5h-7M0 57.2h7M737.5 57.2h-7" stroke="#505050" stroke-width="1.6" fill="none"/>
<text x="67.0" y="689.5" text-anchor="middle" font-size="48" fill="#262626">100</text>
<text x="201.1" y="689.5" text-anchor="middle" font-size="48" fill="#262626">110</text>
<text x="335.2" y="689.5" text-anchor="middle" font-size="48" fill="#262626">120</text>
<text x="469.3" y="689.5" text-anchor="middle" font-size="48" fill="#262626">130</text>
<text x="603.4" y="689.5" text-anchor="middle" font-size="48" fill="#262626">140</text>
<text x="737.5" y="689.5" text-anchor="middle" font-size="48" fill="#262626">150</text>
<text x="-16" y="646.5" text-anchor="end" font-size="48" fill="#262626">10</text>
<text transform="translate(-91.5,646.5) scale(0.70,1)" text-anchor="middle" font-size="48" fill="#262626">−</text>
<text x="-16" y="532.1" text-anchor="end" font-size="48" fill="#262626">0</text>
<text x="-16" y="417.8" text-anchor="end" font-size="48" fill="#262626">10</text>
<text x="-16" y="303.4" text-anchor="end" font-size="48" fill="#262626">20</text>
<text x="-16" y="189.0" text-anchor="end" font-size="48" fill="#262626">30</text>
<text x="-16" y="74.7" text-anchor="end" font-size="48" fill="#262626">40</text>
<text x="368.5" y="754.0" text-anchor="middle" font-size="52" fill="#262626">Longitude</text>
<text transform="translate(-122.2,313.5) rotate(-90) scale(0.966,1)" text-anchor="middle" font-size="52" fill="#262626">Latitude</text>
<rect x="808.6" y="0" width="53.2" height="629.0" fill="url(#cb)" stroke="#707070" stroke-width="1.6"/>
<path d="M861.8 576.6h-7M861.8 524.2h-7M861.8 471.8h-7M861.8 419.3h-7M861.8 366.9h-7M861.8 314.5h-7M861.8 262.1h-7M861.8 209.7h-7M861.8 157.2h-7M861.8 104.8h-7M861.8 52.4h-7" stroke="#404040" stroke-width="1.6"/>
<text x="875.8" y="644.0" font-size="41" fill="#262626">0</text>
<text x="875.8" y="591.6" font-size="41" fill="#262626">0.1</text>
<text x="875.8" y="539.2" font-size="41" fill="#262626">0.2</text>
<text x="875.8" y="486.8" font-size="41" fill="#262626">0.3</text>
<text x="875.8" y="434.3" font-size="41" fill="#262626">0.4</text>
<text x="875.8" y="381.9" font-size="41" fill="#262626">0.5</text>
<text x="875.8" y="329.5" font-size="41" fill="#262626">0.6</text>
<text x="875.8" y="277.1" font-size="41" fill="#262626">0.7</text>
<text x="875.8" y="224.7" font-size="41" fill="#262626">0.8</text>
<text x="875.8" y="172.2" font-size="41" fill="#262626">0.9</text>
<text x="875.8" y="119.8" font-size="41" fill="#262626">1</text>
<text x="875.8" y="67.4" font-size="41" fill="#262626">1.1</text>
<text x="875.8" y="15.0" font-size="41" fill="#262626">1.2</text>
<text transform="translate(834.7,-23.5) scale(0.95,1)" text-anchor="middle" font-size="41.5" font-weight="bold" fill="#000">DU</text>
</g>
<text transform="translate(1646.5,886.9) scale(0.8960,1)" text-anchor="middle" font-size="53" font-weight="bold" fill="#000">Winter(DJF) SO2</text>
</svg>
</body></html>
